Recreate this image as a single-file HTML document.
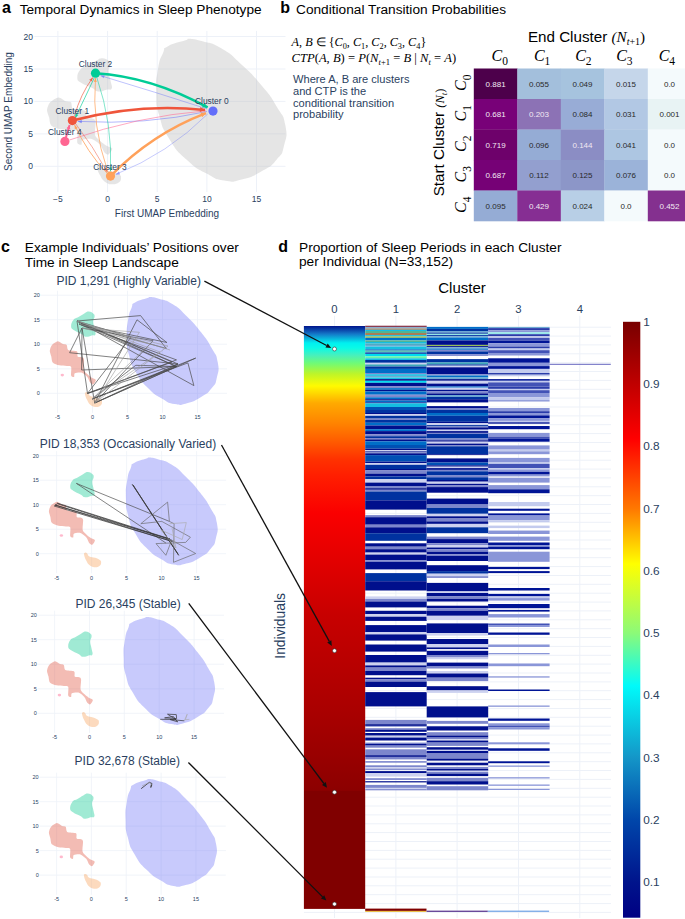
<!DOCTYPE html>
<html><head><meta charset="utf-8"><style>
html,body{margin:0;padding:0;background:#fff;}
body{width:685px;height:919px;overflow:hidden;position:relative;}
svg{position:absolute;left:0;top:0;}
</style></head><body>
<svg width="685" height="919" viewBox="0 0 685 919">
<text x="2" y="12.5" font-size="16" fill="#000" text-anchor="start" font-family='"Liberation Sans", sans-serif' font-weight="bold" font-style="normal" >a</text>
<text x="19.7" y="14" font-size="13.65" fill="#000" text-anchor="start" font-family='"Liberation Sans", sans-serif' font-weight="normal" font-style="normal" >Temporal Dynamics in Sleep Phenotype</text>
<line x1="34.3" y1="166.3" x2="285.5" y2="166.3" stroke="#edf1f8" stroke-width="1"/>
<text x="33" y="169.3" font-size="8.5" fill="#2a3f5f" text-anchor="end" font-family='"Liberation Sans", sans-serif' font-weight="normal" font-style="normal" >0</text>
<line x1="34.3" y1="133.9" x2="285.5" y2="133.9" stroke="#edf1f8" stroke-width="1"/>
<text x="33" y="136.9" font-size="8.5" fill="#2a3f5f" text-anchor="end" font-family='"Liberation Sans", sans-serif' font-weight="normal" font-style="normal" >5</text>
<line x1="34.3" y1="101.4" x2="285.5" y2="101.4" stroke="#edf1f8" stroke-width="1"/>
<text x="33" y="104.4" font-size="8.5" fill="#2a3f5f" text-anchor="end" font-family='"Liberation Sans", sans-serif' font-weight="normal" font-style="normal" >10</text>
<line x1="34.3" y1="69.0" x2="285.5" y2="69.0" stroke="#edf1f8" stroke-width="1"/>
<text x="33" y="72" font-size="8.5" fill="#2a3f5f" text-anchor="end" font-family='"Liberation Sans", sans-serif' font-weight="normal" font-style="normal" >15</text>
<line x1="34.3" y1="36.5" x2="285.5" y2="36.5" stroke="#edf1f8" stroke-width="1"/>
<text x="33" y="39.5" font-size="8.5" fill="#2a3f5f" text-anchor="end" font-family='"Liberation Sans", sans-serif' font-weight="normal" font-style="normal" >20</text>
<line x1="57.9" y1="30.9" x2="57.9" y2="192" stroke="#edf1f8" stroke-width="1"/>
<text x="57.9" y="202" font-size="8.5" fill="#2a3f5f" text-anchor="middle" font-family='"Liberation Sans", sans-serif' font-weight="normal" font-style="normal" >−5</text>
<line x1="107.6" y1="30.9" x2="107.6" y2="192" stroke="#edf1f8" stroke-width="1"/>
<text x="107.6" y="202" font-size="8.5" fill="#2a3f5f" text-anchor="middle" font-family='"Liberation Sans", sans-serif' font-weight="normal" font-style="normal" >0</text>
<line x1="157.2" y1="30.9" x2="157.2" y2="192" stroke="#edf1f8" stroke-width="1"/>
<text x="157.2" y="202" font-size="8.5" fill="#2a3f5f" text-anchor="middle" font-family='"Liberation Sans", sans-serif' font-weight="normal" font-style="normal" >5</text>
<line x1="206.9" y1="30.9" x2="206.9" y2="192" stroke="#edf1f8" stroke-width="1"/>
<text x="206.9" y="202" font-size="8.5" fill="#2a3f5f" text-anchor="middle" font-family='"Liberation Sans", sans-serif' font-weight="normal" font-style="normal" >10</text>
<line x1="256.5" y1="30.9" x2="256.5" y2="192" stroke="#edf1f8" stroke-width="1"/>
<text x="256.5" y="202" font-size="8.5" fill="#2a3f5f" text-anchor="middle" font-family='"Liberation Sans", sans-serif' font-weight="normal" font-style="normal" >15</text>
<text x="167" y="216.6" font-size="10" fill="#2a3f5f" text-anchor="middle" font-family='"Liberation Sans", sans-serif' font-weight="normal" font-style="normal" >First UMAP Embedding</text>
<text x="0" y="0" font-size="10" fill="#2a3f5f" text-anchor="middle" font-family='"Liberation Sans", sans-serif' transform="translate(12,111.5) rotate(-90)">Second UMAP Embedding</text>
<g fill-opacity="0.4" stroke-opacity="0.4">
<path d="M168.0,46.2 C174.8,42.3 179.5,42.6 185.5,40.3 C191.5,38.1 183.1,38.5 188.0,38.7 C192.8,39.0 191.5,38.2 201.6,41.1 C211.7,44.1 209.6,41.5 221.6,48.5 C233.6,55.6 229.7,53.6 241.7,64.7 C253.7,75.8 251.1,73.1 261.6,85.6 C272.1,98.1 269.5,94.6 276.6,106.4 C283.7,118.2 283.0,113.1 285.3,124.9 C287.5,136.7 286.6,135.4 284.0,145.8 C281.4,156.2 283.3,152.0 276.6,159.7 C269.9,167.3 272.1,165.4 261.6,171.3 C251.1,177.2 252.9,176.6 241.7,179.4 C230.4,182.2 234.7,182.3 224.1,180.6 C213.6,178.8 217.9,179.8 206.6,173.6 C195.4,167.3 197.9,170.1 186.7,159.7 C175.5,149.3 177.5,152.1 169.3,138.9 C161.1,125.7 163.2,129.6 159.3,115.6 C155.4,101.7 156.7,106.4 156.3,92.5 C155.9,78.6 156.0,81.1 158.0,69.3 C160.0,57.5 160.0,60.0 163.0,53.0 C166.0,46.1 161.3,50.0 168.0,46.2 Z" fill="#bebebe"/>
<path d="M77.3,78.0 C77.1,74.9 78.0,72.2 80.5,69.3 C82.9,66.4 84.1,67.5 87.7,65.5 C91.4,63.5 92.6,62.4 96.0,60.7 C99.4,59.0 99.4,58.2 102.3,58.2 C105.2,58.2 106.7,59.2 108.6,60.7 C110.5,62.2 110.6,62.1 110.6,64.6 C110.6,67.0 108.6,67.5 108.6,71.3 C108.6,75.1 109.9,76.9 110.6,81.0 C111.3,85.0 112.7,86.6 111.7,88.6 C110.8,90.7 109.6,89.0 106.5,89.7 C103.3,90.4 101.6,92.0 98.2,91.5 C94.8,91.1 95.8,89.8 91.9,87.8 C88.0,85.8 84.9,85.2 81.5,82.9 C78.1,80.7 77.5,81.2 77.3,78.0 Z" fill="#bebebe"/>
<path d="M58.5,97.4 C60.5,97.2 64.1,100.5 65.7,101.2 C67.4,101.9 70.0,101.2 71.0,102.3 C72.0,103.3 71.2,107.9 73.2,109.0 C75.1,110.2 83.8,109.7 85.6,110.9 C87.4,112.0 85.6,116.6 86.6,117.6 C87.6,118.6 91.7,118.1 92.9,118.7 C94.1,119.2 95.3,119.4 95.6,121.6 C95.9,123.8 94.4,132.5 95.0,135.1 C95.6,137.6 98.6,139.5 100.2,140.9 C101.7,142.3 104.8,144.6 106.5,145.7 C108.1,146.7 112.0,147.4 112.3,148.6 C112.6,149.7 109.6,153.9 108.6,154.4 C107.6,154.9 105.6,153.7 104.5,152.4 C103.3,151.1 101.8,146.5 100.2,144.7 C98.5,142.9 94.2,139.6 91.9,138.9 C89.5,138.3 83.8,139.1 82.5,139.8 C81.1,140.6 82.1,144.3 81.5,144.7 C80.8,145.1 77.9,144.5 77.3,142.7 C76.8,140.9 78.1,132.9 77.3,131.2 C76.5,129.6 73.3,130.4 71.0,130.2 C68.8,129.9 63.2,129.9 60.6,129.3 C57.9,128.6 52.7,127.0 51.2,125.4 C49.6,123.9 49.7,119.7 49.2,117.6 C48.6,115.5 46.9,112.0 47.0,109.9 C47.2,107.9 48.6,103.9 50.2,102.3 C51.7,100.6 56.4,97.5 58.5,97.4 Z" fill="#bebebe"/>
<path d="M98.2,165.0 C99.2,164.5 99.8,164.8 101.3,165.9 C102.8,167.0 101.8,168.5 104.5,169.9 C107.1,171.2 109.3,170.6 112.7,171.7 C116.1,172.8 117.1,173.3 119.0,174.6 C121.0,176.0 121.0,175.8 121.0,177.5 C121.0,179.3 121.2,180.7 119.0,182.3 C116.9,183.9 115.1,184.5 111.7,184.3 C108.3,184.1 107.2,183.4 104.5,181.4 C101.8,179.3 101.9,178.7 100.2,175.6 C98.4,172.4 97.5,170.4 97.0,167.9 C96.6,165.4 97.2,165.4 98.2,165.0 Z" fill="#bebebe"/>
<ellipse cx="64.7" cy="142.2" rx="2.4" ry="1.7" fill="#bebebe"/>
</g>
<path d="M207.0,108.9 Q155.0,92.0 100.4,75.6" fill="none" stroke="#636efa" stroke-width="0.7" stroke-opacity="0.6"/>
<path d="M100.4,75.6 L104.7,75.2 L103.8,78.3 Z" fill="#636efa" fill-opacity="0.6"/>
<path d="M207.0,111.5 Q145.4,125.2 77.8,121.4" fill="none" stroke="#636efa" stroke-width="0.7" stroke-opacity="0.7"/>
<path d="M77.8,121.4 L81.9,120.0 L81.7,123.2 Z" fill="#636efa" fill-opacity="0.7"/>
<path d="M207.7,114.0 Q167.9,153.6 115.8,174.4" fill="none" stroke="#636efa" stroke-width="0.6" stroke-opacity="0.6"/>
<path d="M115.8,174.4 L118.9,171.4 L120.1,174.4 Z" fill="#636efa" fill-opacity="0.6"/>
<path d="M69.4,140.0 Q137.7,116.2 206.0,110.8" fill="none" stroke="#FF6692" stroke-width="0.7" stroke-opacity="0.8"/>
<path d="M74.6,115.9 Q80.1,94.9 92.9,77.4" fill="none" stroke="#EF553B" stroke-width="0.8" stroke-opacity="0.8"/>
<path d="M92.9,77.4 L91.8,81.6 L89.2,79.7 Z" fill="#EF553B" fill-opacity="0.8"/>
<path d="M94.2,78.0 Q85.0,97.6 75.2,117.9" fill="none" stroke="#00cc96" stroke-width="0.8" stroke-opacity="0.8"/>
<path d="M75.2,117.9 L75.5,113.6 L78.4,115.0 Z" fill="#00cc96" fill-opacity="0.8"/>
<path d="M107.9,172.0 Q91.5,125.0 95.5,78.0" fill="none" stroke="#FFA15A" stroke-width="0.8" stroke-opacity="0.9"/>
<path d="M95.5,78.0 L96.8,82.1 L93.6,81.8 Z" fill="#FFA15A" fill-opacity="0.9"/>
<path d="M96.8,77.4 Q112.8,124.4 110.5,171.4" fill="none" stroke="#00cc96" stroke-width="0.7" stroke-opacity="0.7"/>
<path d="M110.5,171.4 L109.1,167.3 L112.3,167.5 Z" fill="#00cc96" fill-opacity="0.7"/>
<path d="M107.2,173.4 Q86.9,151.9 74.6,125.0" fill="none" stroke="#FFA15A" stroke-width="0.9" stroke-opacity="0.9"/>
<path d="M74.6,125.0 L77.7,128.0 L74.8,129.3 Z" fill="#FFA15A" fill-opacity="0.9"/>
<path d="M75.2,123.1 Q93.1,146.3 107.2,172.0" fill="none" stroke="#EF553B" stroke-width="0.7" stroke-opacity="0.7"/>
<path d="M107.2,172.0 L103.9,169.3 L106.7,167.7 Z" fill="#EF553B" fill-opacity="0.7"/>
<path d="M95.5,73.2 Q151.5,76.7 207.6,107.4" fill="none" stroke="#00cc96" stroke-width="2.6" stroke-opacity="1"/>
<path d="M207.6,107.4 L202.0,107.2 L204.4,102.8 Z" fill="#00cc96" fill-opacity="1"/>
<path d="M72.4,120.6 Q138.7,103.0 205.0,110.0" fill="none" stroke="#EF553B" stroke-width="2.6" stroke-opacity="1"/>
<path d="M205.0,110.0 L199.8,112.0 L200.3,107.0 Z" fill="#EF553B" fill-opacity="1"/>
<path d="M110.5,176.1 Q151.5,134.0 206.0,113.1" fill="none" stroke="#FFA15A" stroke-width="2.6" stroke-opacity="1"/>
<path d="M206.0,113.1 L202.2,117.2 L200.4,112.6 Z" fill="#FFA15A" fill-opacity="1"/>
<path d="M64.9,141.4 Q67.0,133.0 69.6,125.0" fill="none" stroke="#FF6692" stroke-width="2.0" stroke-opacity="1"/>
<path d="M69.6,125.0 L70.3,129.4 L66.5,128.2 Z" fill="#FF6692" fill-opacity="1"/>
<circle cx="213" cy="111.1" r="4.6" fill="#636efa"/>
<circle cx="72.4" cy="120.6" r="4.6" fill="#EF553B"/>
<circle cx="95.5" cy="73.2" r="4.6" fill="#00cc96"/>
<circle cx="110.5" cy="176.1" r="4.6" fill="#FFA15A"/>
<circle cx="64.9" cy="141.4" r="4.6" fill="#FF6692"/>
<text x="95.5" y="67.4" font-size="8.4" fill="#2a3f5f" text-anchor="middle" font-family='"Liberation Sans", sans-serif' font-weight="normal" font-style="normal" >Cluster 2</text>
<text x="72.3" y="114.1" font-size="8.4" fill="#2a3f5f" text-anchor="middle" font-family='"Liberation Sans", sans-serif' font-weight="normal" font-style="normal" >Cluster 1</text>
<text x="64.8" y="135.3" font-size="8.4" fill="#2a3f5f" text-anchor="middle" font-family='"Liberation Sans", sans-serif' font-weight="normal" font-style="normal" >Cluster 4</text>
<text x="211.8" y="104.4" font-size="8.4" fill="#2a3f5f" text-anchor="middle" font-family='"Liberation Sans", sans-serif' font-weight="normal" font-style="normal" >Cluster 0</text>
<text x="110" y="169.5" font-size="8.4" fill="#2a3f5f" text-anchor="middle" font-family='"Liberation Sans", sans-serif' font-weight="normal" font-style="normal" >Cluster 3</text>
<text x="280.3" y="13" font-size="16" fill="#000" text-anchor="start" font-family='"Liberation Sans", sans-serif' font-weight="bold" font-style="normal" >b</text>
<text x="296" y="13.9" font-size="13.7" fill="#000" text-anchor="start" font-family='"Liberation Sans", sans-serif' font-weight="normal" font-style="normal" >Conditional Transition Probabilities</text>
<text x="291.6" y="45.5" font-family='"Liberation Serif", serif' fill="#000" font-size="12.2"><tspan font-style="italic" font-size="12.20" dy="0.00">A</tspan><tspan font-style="normal" font-size="12.20" dy="0.00">, </tspan><tspan font-style="italic" font-size="12.20" dy="0.00">B</tspan><tspan font-style="normal" font-size="12.20" dy="0.00"> ∈ {</tspan><tspan font-style="italic" font-size="12.20" dy="0.00">C</tspan><tspan font-style="normal" font-size="8.30" dy="3.42">0</tspan><tspan font-style="normal" font-size="12.20" dy="-3.42">, </tspan><tspan font-style="italic" font-size="12.20" dy="0.00">C</tspan><tspan font-style="normal" font-size="8.30" dy="3.42">1</tspan><tspan font-style="normal" font-size="12.20" dy="-3.42">, </tspan><tspan font-style="italic" font-size="12.20" dy="0.00">C</tspan><tspan font-style="normal" font-size="8.30" dy="3.42">2</tspan><tspan font-style="normal" font-size="12.20" dy="-3.42">, </tspan><tspan font-style="italic" font-size="12.20" dy="0.00">C</tspan><tspan font-style="normal" font-size="8.30" dy="3.42">3</tspan><tspan font-style="normal" font-size="12.20" dy="-3.42">, </tspan><tspan font-style="italic" font-size="12.20" dy="0.00">C</tspan><tspan font-style="normal" font-size="8.30" dy="3.42">4</tspan><tspan font-style="normal" font-size="12.20" dy="-3.42">}</tspan></text>
<text x="291.6" y="61.8" font-family='"Liberation Serif", serif' fill="#000" font-size="12.6"><tspan font-style="italic" font-size="12.60" dy="0.00">CTP</tspan><tspan font-style="normal" font-size="12.60" dy="0.00">(</tspan><tspan font-style="italic" font-size="12.60" dy="0.00">A</tspan><tspan font-style="normal" font-size="12.60" dy="0.00">, </tspan><tspan font-style="italic" font-size="12.60" dy="0.00">B</tspan><tspan font-style="normal" font-size="12.60" dy="0.00">) = </tspan><tspan font-style="italic" font-size="12.60" dy="0.00">P</tspan><tspan font-style="normal" font-size="12.60" dy="0.00">(</tspan><tspan font-style="italic" font-size="12.60" dy="0.00">N</tspan><tspan font-style="italic" font-size="8.57" dy="3.53">t</tspan><tspan font-style="normal" font-size="8.57" dy="0.00">+1</tspan><tspan font-style="normal" font-size="12.60" dy="-3.53"> = </tspan><tspan font-style="italic" font-size="12.60" dy="0.00">B</tspan><tspan font-style="normal" font-size="12.60" dy="0.00"> | </tspan><tspan font-style="italic" font-size="12.60" dy="0.00">N</tspan><tspan font-style="italic" font-size="8.57" dy="3.53">t</tspan><tspan font-style="normal" font-size="12.60" dy="-3.53"> = </tspan><tspan font-style="italic" font-size="12.60" dy="0.00">A</tspan><tspan font-style="normal" font-size="12.60" dy="0.00">)</tspan></text>
<text x="293" y="83.3" font-size="11.1" fill="#2a3f5f" text-anchor="start" font-family='"Liberation Sans", sans-serif' font-weight="normal" font-style="normal" >Where A, B are clusters</text>
<text x="293" y="94.9" font-size="11.1" fill="#2a3f5f" text-anchor="start" font-family='"Liberation Sans", sans-serif' font-weight="normal" font-style="normal" >and CTP is the</text>
<text x="293" y="106.5" font-size="11.1" fill="#2a3f5f" text-anchor="start" font-family='"Liberation Sans", sans-serif' font-weight="normal" font-style="normal" >conditional transition</text>
<text x="293" y="118.1" font-size="11.1" fill="#2a3f5f" text-anchor="start" font-family='"Liberation Sans", sans-serif' font-weight="normal" font-style="normal" >probability</text>
<text x="527.9" y="42.2" font-family='"Liberation Sans", sans-serif' font-size="15.2" fill="#000">End Cluster <tspan font-family='"Liberation Serif", serif' font-style="italic">(N</tspan><tspan font-family='"Liberation Serif", serif' font-style="italic" font-size="10" dy="3">t</tspan><tspan font-family='"Liberation Serif", serif' font-size="10">+1</tspan><tspan font-family='"Liberation Serif", serif' dy="-3">)</tspan></text>
<text x="491.6" y="61.2" font-family='"Liberation Serif", serif' font-size="16" fill="#000"><tspan font-style="italic">C</tspan><tspan font-size="11.5" dy="3.6">0</tspan></text>
<text x="533.9" y="61.2" font-family='"Liberation Serif", serif' font-size="16" fill="#000"><tspan font-style="italic">C</tspan><tspan font-size="11.5" dy="3.6">1</tspan></text>
<text x="575.2" y="61.2" font-family='"Liberation Serif", serif' font-size="16" fill="#000"><tspan font-style="italic">C</tspan><tspan font-size="11.5" dy="3.6">2</tspan></text>
<text x="616.2" y="61.2" font-family='"Liberation Serif", serif' font-size="16" fill="#000"><tspan font-style="italic">C</tspan><tspan font-size="11.5" dy="3.6">3</tspan></text>
<text x="658.7" y="61.2" font-family='"Liberation Serif", serif' font-size="16" fill="#000"><tspan font-style="italic">C</tspan><tspan font-size="11.5" dy="3.6">4</tspan></text>
<text x="0" y="0" transform="translate(466,91.0) rotate(-90)" font-family='"Liberation Serif", serif' font-size="16" fill="#000"><tspan font-style="italic">C</tspan><tspan font-size="11.5" dy="4.5">0</tspan></text>
<text x="0" y="0" transform="translate(466,121.5) rotate(-90)" font-family='"Liberation Serif", serif' font-size="16" fill="#000"><tspan font-style="italic">C</tspan><tspan font-size="11.5" dy="4.5">1</tspan></text>
<text x="0" y="0" transform="translate(466,151.9) rotate(-90)" font-family='"Liberation Serif", serif' font-size="16" fill="#000"><tspan font-style="italic">C</tspan><tspan font-size="11.5" dy="4.5">2</tspan></text>
<text x="0" y="0" transform="translate(466,182.4) rotate(-90)" font-family='"Liberation Serif", serif' font-size="16" fill="#000"><tspan font-style="italic">C</tspan><tspan font-size="11.5" dy="4.5">3</tspan></text>
<text x="0" y="0" transform="translate(466,212.9) rotate(-90)" font-family='"Liberation Serif", serif' font-size="16" fill="#000"><tspan font-style="italic">C</tspan><tspan font-size="11.5" dy="4.5">4</tspan></text>
<text x="0" y="0" transform="translate(444.2,196.3) rotate(-90)" font-family='"Liberation Sans", sans-serif' font-size="15.2" fill="#000">Start Cluster <tspan font-family='"Liberation Serif", serif' font-style="italic" font-size="12.5">(N</tspan><tspan font-family='"Liberation Serif", serif' font-style="italic" font-size="8.5" dy="2.5">t</tspan><tspan font-family='"Liberation Serif", serif' font-size="12.5" dy="-2.5">)</tspan></text>
<rect x="473.8" y="68.5" width="43.8" height="30.8" fill="#4d004b"/>
<text x="495.6" y="86.8" font-size="8.0" fill="#f2e8f2" text-anchor="middle" font-family='"Liberation Sans", sans-serif' font-weight="normal" font-style="normal" >0.881</text>
<rect x="517.3" y="68.5" width="43.8" height="30.8" fill="#a3bfdc"/>
<text x="539" y="86.8" font-size="8.0" fill="#2a2a2a" text-anchor="middle" font-family='"Liberation Sans", sans-serif' font-weight="normal" font-style="normal" >0.055</text>
<rect x="560.8" y="68.5" width="43.8" height="30.8" fill="#a6c3de"/>
<text x="582.5" y="86.8" font-size="8.0" fill="#2a2a2a" text-anchor="middle" font-family='"Liberation Sans", sans-serif' font-weight="normal" font-style="normal" >0.049</text>
<rect x="604.3" y="68.5" width="43.8" height="30.8" fill="#c5d6ea"/>
<text x="626" y="86.8" font-size="8.0" fill="#2a2a2a" text-anchor="middle" font-family='"Liberation Sans", sans-serif' font-weight="normal" font-style="normal" >0.015</text>
<rect x="647.8" y="68.5" width="43.8" height="30.8" fill="#f4fafc"/>
<text x="669.5" y="86.8" font-size="8.0" fill="#2a2a2a" text-anchor="middle" font-family='"Liberation Sans", sans-serif' font-weight="normal" font-style="normal" >0.0</text>
<rect x="473.8" y="99.0" width="43.8" height="30.8" fill="#780178"/>
<text x="495.6" y="117.2" font-size="8.0" fill="#f2e8f2" text-anchor="middle" font-family='"Liberation Sans", sans-serif' font-weight="normal" font-style="normal" >0.681</text>
<rect x="517.3" y="99.0" width="43.8" height="30.8" fill="#8c72b5"/>
<text x="539" y="117.2" font-size="8.0" fill="#f2e8f2" text-anchor="middle" font-family='"Liberation Sans", sans-serif' font-weight="normal" font-style="normal" >0.203</text>
<rect x="560.8" y="99.0" width="43.8" height="30.8" fill="#98acd6"/>
<text x="582.5" y="117.2" font-size="8.0" fill="#2a2a2a" text-anchor="middle" font-family='"Liberation Sans", sans-serif' font-weight="normal" font-style="normal" >0.084</text>
<rect x="604.3" y="99.0" width="43.8" height="30.8" fill="#b2c8e4"/>
<text x="626" y="117.2" font-size="8.0" fill="#2a2a2a" text-anchor="middle" font-family='"Liberation Sans", sans-serif' font-weight="normal" font-style="normal" >0.031</text>
<rect x="647.8" y="99.0" width="43.8" height="30.8" fill="#e8f3f4"/>
<text x="669.5" y="117.2" font-size="8.0" fill="#2a2a2a" text-anchor="middle" font-family='"Liberation Sans", sans-serif' font-weight="normal" font-style="normal" >0.001</text>
<rect x="473.8" y="129.5" width="43.8" height="30.8" fill="#6e016b"/>
<text x="495.6" y="147.8" font-size="8.0" fill="#f2e8f2" text-anchor="middle" font-family='"Liberation Sans", sans-serif' font-weight="normal" font-style="normal" >0.719</text>
<rect x="517.3" y="129.5" width="43.8" height="30.8" fill="#95acd5"/>
<text x="539" y="147.8" font-size="8.0" fill="#2a2a2a" text-anchor="middle" font-family='"Liberation Sans", sans-serif' font-weight="normal" font-style="normal" >0.096</text>
<rect x="560.8" y="129.5" width="43.8" height="30.8" fill="#8b8dc4"/>
<text x="582.5" y="147.8" font-size="8.0" fill="#f2e8f2" text-anchor="middle" font-family='"Liberation Sans", sans-serif' font-weight="normal" font-style="normal" >0.144</text>
<rect x="604.3" y="129.5" width="43.8" height="30.8" fill="#adc6e2"/>
<text x="626" y="147.8" font-size="8.0" fill="#2a2a2a" text-anchor="middle" font-family='"Liberation Sans", sans-serif' font-weight="normal" font-style="normal" >0.041</text>
<rect x="647.8" y="129.5" width="43.8" height="30.8" fill="#f4fafc"/>
<text x="669.5" y="147.8" font-size="8.0" fill="#2a2a2a" text-anchor="middle" font-family='"Liberation Sans", sans-serif' font-weight="normal" font-style="normal" >0.0</text>
<rect x="473.8" y="160.0" width="43.8" height="30.8" fill="#760176"/>
<text x="495.6" y="178.2" font-size="8.0" fill="#f2e8f2" text-anchor="middle" font-family='"Liberation Sans", sans-serif' font-weight="normal" font-style="normal" >0.687</text>
<rect x="517.3" y="160.0" width="43.8" height="30.8" fill="#939fcf"/>
<text x="539" y="178.2" font-size="8.0" fill="#2a2a2a" text-anchor="middle" font-family='"Liberation Sans", sans-serif' font-weight="normal" font-style="normal" >0.112</text>
<rect x="560.8" y="160.0" width="43.8" height="30.8" fill="#8c96c8"/>
<text x="582.5" y="178.2" font-size="8.0" fill="#2a2a2a" text-anchor="middle" font-family='"Liberation Sans", sans-serif' font-weight="normal" font-style="normal" >0.125</text>
<rect x="604.3" y="160.0" width="43.8" height="30.8" fill="#9bb3d9"/>
<text x="626" y="178.2" font-size="8.0" fill="#2a2a2a" text-anchor="middle" font-family='"Liberation Sans", sans-serif' font-weight="normal" font-style="normal" >0.076</text>
<rect x="647.8" y="160.0" width="43.8" height="30.8" fill="#f4fafc"/>
<text x="669.5" y="178.2" font-size="8.0" fill="#2a2a2a" text-anchor="middle" font-family='"Liberation Sans", sans-serif' font-weight="normal" font-style="normal" >0.0</text>
<rect x="473.8" y="190.5" width="43.8" height="30.8" fill="#95acd5"/>
<text x="495.6" y="208.8" font-size="8.0" fill="#2a2a2a" text-anchor="middle" font-family='"Liberation Sans", sans-serif' font-weight="normal" font-style="normal" >0.095</text>
<rect x="517.3" y="190.5" width="43.8" height="30.8" fill="#862e93"/>
<text x="539" y="208.8" font-size="8.0" fill="#f2e8f2" text-anchor="middle" font-family='"Liberation Sans", sans-serif' font-weight="normal" font-style="normal" >0.429</text>
<rect x="560.8" y="190.5" width="43.8" height="30.8" fill="#b8cfe6"/>
<text x="582.5" y="208.8" font-size="8.0" fill="#2a2a2a" text-anchor="middle" font-family='"Liberation Sans", sans-serif' font-weight="normal" font-style="normal" >0.024</text>
<rect x="604.3" y="190.5" width="43.8" height="30.8" fill="#f4fafc"/>
<text x="626" y="208.8" font-size="8.0" fill="#2a2a2a" text-anchor="middle" font-family='"Liberation Sans", sans-serif' font-weight="normal" font-style="normal" >0.0</text>
<rect x="647.8" y="190.5" width="43.8" height="30.8" fill="#84308f"/>
<text x="669.5" y="208.8" font-size="8.0" fill="#f2e8f2" text-anchor="middle" font-family='"Liberation Sans", sans-serif' font-weight="normal" font-style="normal" >0.452</text>
<text x="1" y="252" font-size="16" fill="#000" text-anchor="start" font-family='"Liberation Sans", sans-serif' font-weight="bold" font-style="normal" >c</text>
<text x="24.8" y="251.8" font-size="13.7" fill="#000" text-anchor="start" font-family='"Liberation Sans", sans-serif' font-weight="normal" font-style="normal" >Example Individuals’ Positions over</text>
<text x="24.8" y="266.5" font-size="13.7" fill="#000" text-anchor="start" font-family='"Liberation Sans", sans-serif' font-weight="normal" font-style="normal" >Time in Sleep Landscape</text>
<line x1="40.5" y1="393.3" x2="227.0" y2="393.3" stroke="#edf1f8" stroke-width="0.8"/>
<text x="39.8" y="395.3" font-size="5.5" fill="#2a3f5f" text-anchor="end" font-family='"Liberation Sans", sans-serif' font-weight="normal" font-style="normal" >0</text>
<line x1="40.5" y1="368.8" x2="227.0" y2="368.8" stroke="#edf1f8" stroke-width="0.8"/>
<text x="39.8" y="370.8" font-size="5.5" fill="#2a3f5f" text-anchor="end" font-family='"Liberation Sans", sans-serif' font-weight="normal" font-style="normal" >5</text>
<line x1="40.5" y1="344.2" x2="227.0" y2="344.2" stroke="#edf1f8" stroke-width="0.8"/>
<text x="39.8" y="346.2" font-size="5.5" fill="#2a3f5f" text-anchor="end" font-family='"Liberation Sans", sans-serif' font-weight="normal" font-style="normal" >10</text>
<line x1="40.5" y1="319.7" x2="227.0" y2="319.7" stroke="#edf1f8" stroke-width="0.8"/>
<text x="39.8" y="321.7" font-size="5.5" fill="#2a3f5f" text-anchor="end" font-family='"Liberation Sans", sans-serif' font-weight="normal" font-style="normal" >15</text>
<line x1="40.5" y1="295.2" x2="227.0" y2="295.2" stroke="#edf1f8" stroke-width="0.8"/>
<text x="39.8" y="297.2" font-size="5.5" fill="#2a3f5f" text-anchor="end" font-family='"Liberation Sans", sans-serif' font-weight="normal" font-style="normal" >20</text>
<line x1="57.5" y1="290.7" x2="57.5" y2="412.9" stroke="#edf1f8" stroke-width="0.8"/>
<text x="57.5" y="419.2" font-size="5.5" fill="#2a3f5f" text-anchor="middle" font-family='"Liberation Sans", sans-serif' font-weight="normal" font-style="normal" >-5</text>
<line x1="92.5" y1="290.7" x2="92.5" y2="412.9" stroke="#edf1f8" stroke-width="0.8"/>
<text x="92.5" y="419.2" font-size="5.5" fill="#2a3f5f" text-anchor="middle" font-family='"Liberation Sans", sans-serif' font-weight="normal" font-style="normal" >0</text>
<line x1="127.5" y1="290.7" x2="127.5" y2="412.9" stroke="#edf1f8" stroke-width="0.8"/>
<text x="127.5" y="419.2" font-size="5.5" fill="#2a3f5f" text-anchor="middle" font-family='"Liberation Sans", sans-serif' font-weight="normal" font-style="normal" >5</text>
<line x1="162.5" y1="290.7" x2="162.5" y2="412.9" stroke="#edf1f8" stroke-width="0.8"/>
<text x="162.5" y="419.2" font-size="5.5" fill="#2a3f5f" text-anchor="middle" font-family='"Liberation Sans", sans-serif' font-weight="normal" font-style="normal" >10</text>
<line x1="197.5" y1="290.7" x2="197.5" y2="412.9" stroke="#edf1f8" stroke-width="0.8"/>
<text x="197.5" y="419.2" font-size="5.5" fill="#2a3f5f" text-anchor="middle" font-family='"Liberation Sans", sans-serif' font-weight="normal" font-style="normal" >15</text>
<g fill-opacity="0.4" stroke-opacity="0.4">
<path d="M135.1,302.5 C139.8,299.6 143.2,299.8 147.4,298.1 C151.7,296.4 145.7,296.7 149.1,296.9 C152.5,297.1 151.7,296.5 158.8,298.7 C165.9,300.9 164.4,299.0 172.8,304.3 C181.3,309.6 178.5,308.1 187.0,316.5 C195.5,324.9 193.7,322.9 201.1,332.3 C208.4,341.8 206.6,339.1 211.6,348.0 C216.6,356.9 216.2,353.1 217.7,362.0 C219.3,370.9 218.7,369.9 216.8,377.8 C215.0,385.7 216.3,382.5 211.6,388.3 C206.9,394.1 208.4,392.6 201.1,397.1 C193.7,401.6 194.9,401.1 187.0,403.2 C179.1,405.3 182.1,405.4 174.7,404.1 C167.2,402.8 170.2,403.5 162.3,398.8 C154.4,394.1 156.1,396.2 148.2,388.3 C140.3,380.4 141.8,382.6 136.0,372.6 C130.2,362.6 131.7,365.5 129.0,355.0 C126.2,344.5 127.1,348.0 126.8,337.5 C126.6,327.0 126.6,328.9 128.1,320.0 C129.5,311.1 129.5,313.0 131.6,307.7 C133.7,302.5 130.3,305.4 135.1,302.5 Z" fill="#767af8"/>
<path d="M71.1,326.6 C71.0,324.2 71.6,322.2 73.4,320.0 C75.1,317.8 75.9,318.6 78.5,317.1 C81.1,315.6 81.9,314.8 84.3,313.5 C86.7,312.2 86.7,311.6 88.8,311.6 C90.8,311.6 91.8,312.4 93.2,313.5 C94.6,314.6 94.6,314.5 94.6,316.4 C94.6,318.3 93.2,318.6 93.2,321.5 C93.2,324.4 94.1,325.7 94.6,328.8 C95.1,331.9 96.1,333.1 95.4,334.6 C94.7,336.1 93.9,334.9 91.7,335.4 C89.5,335.9 88.2,337.1 85.9,336.8 C83.5,336.5 84.2,335.5 81.4,334.0 C78.7,332.5 76.5,332.0 74.1,330.3 C71.7,328.6 71.3,329.0 71.1,326.6 Z" fill="#12ca94"/>
<path d="M57.9,341.2 C59.3,341.1 61.8,343.6 63.0,344.1 C64.2,344.6 66.0,344.1 66.7,344.9 C67.4,345.7 66.9,349.1 68.2,350.0 C69.6,350.9 75.7,350.5 77.0,351.4 C78.3,352.3 77.0,355.7 77.7,356.5 C78.4,357.3 81.3,356.9 82.1,357.3 C83.0,357.7 83.8,357.8 84.0,359.5 C84.2,361.2 83.2,367.8 83.6,369.7 C84.1,371.6 86.2,373.0 87.3,374.1 C88.3,375.2 90.6,376.9 91.7,377.7 C92.8,378.5 95.6,379.0 95.8,379.9 C96.0,380.8 93.9,383.9 93.2,384.3 C92.5,384.7 91.1,383.8 90.3,382.8 C89.5,381.8 88.4,378.4 87.3,377.0 C86.1,375.6 83.1,373.1 81.4,372.6 C79.8,372.1 75.8,372.7 74.8,373.3 C73.8,373.9 74.6,376.7 74.1,377.0 C73.6,377.3 71.5,376.9 71.1,375.5 C70.8,374.1 71.7,368.1 71.1,366.8 C70.6,365.5 68.3,366.2 66.7,366.0 C65.1,365.8 61.2,365.8 59.4,365.3 C57.5,364.8 53.8,363.6 52.7,362.4 C51.6,361.2 51.7,358.1 51.3,356.5 C50.9,354.9 49.7,352.2 49.8,350.7 C49.9,349.2 50.9,346.2 52.0,344.9 C53.1,343.6 56.4,341.3 57.9,341.2 Z" fill="#e15844"/>
<path d="M85.9,392.3 C86.6,391.9 87.0,392.1 88.1,393.0 C89.1,393.9 88.4,395.0 90.3,396.0 C92.2,397.0 93.7,396.6 96.1,397.4 C98.5,398.2 99.2,398.6 100.6,399.6 C101.9,400.6 102.0,400.4 102.0,401.8 C102.0,403.2 102.1,404.2 100.6,405.4 C99.0,406.6 97.8,407.1 95.4,406.9 C93.0,406.7 92.2,406.2 90.3,404.7 C88.4,403.2 88.5,402.7 87.3,400.3 C86.0,397.9 85.4,396.4 85.0,394.5 C84.7,392.6 85.1,392.7 85.9,392.3 Z" fill="#f8a25c"/>
<ellipse cx="62.3" cy="375.1" rx="1.7" ry="1.3" fill="#ff5082"/>
</g>
<text x="56.4" y="284.7" font-size="12" fill="#2a3f5f" text-anchor="start" font-family='"Liberation Sans", sans-serif' font-weight="normal" font-style="normal" >PID 1,291 (Highly Variable)</text>
<polyline points="77.0,321.0 140.6,315.6 166.3,348.5 79.0,324.0 176.5,366.5 94.7,403.0 82.0,328.0 69.6,352.7 178.0,364.0 87.5,393.4 131.0,337.1 77.0,321.0 176.5,366.5 92.0,399.0 195.7,358.1 94.7,403.0 137.0,319.8 166.9,342.5 79.0,324.0 176.5,359.9 87.5,393.4 77.0,321.0 193.9,385.6 187.9,362.9 92.0,399.0 135.8,365.3 176.5,366.5 81.6,370.0 82.0,328.0 153.1,340.7 94.7,403.0 178.0,364.0 77.0,321.0 172.0,362.0 87.5,393.4" fill="none" stroke="#4a4a4a" stroke-width="0.7"/>
<polyline points="79.0,324.0 168.0,346.0 94.7,403.0 139.4,332.3 82.0,328.0 150.0,344.0 92.0,399.0 160.0,352.0 77.0,321.0 170.0,350.0" fill="none" stroke="#9a9a9a" stroke-width="0.6"/>
<line x1="39.6" y1="553.7" x2="226.1" y2="553.7" stroke="#edf1f8" stroke-width="0.8"/>
<text x="38.9" y="555.7" font-size="5.5" fill="#2a3f5f" text-anchor="end" font-family='"Liberation Sans", sans-serif' font-weight="normal" font-style="normal" >0</text>
<line x1="39.6" y1="529.2" x2="226.1" y2="529.2" stroke="#edf1f8" stroke-width="0.8"/>
<text x="38.9" y="531.2" font-size="5.5" fill="#2a3f5f" text-anchor="end" font-family='"Liberation Sans", sans-serif' font-weight="normal" font-style="normal" >5</text>
<line x1="39.6" y1="504.7" x2="226.1" y2="504.7" stroke="#edf1f8" stroke-width="0.8"/>
<text x="38.9" y="506.7" font-size="5.5" fill="#2a3f5f" text-anchor="end" font-family='"Liberation Sans", sans-serif' font-weight="normal" font-style="normal" >10</text>
<line x1="39.6" y1="480.2" x2="226.1" y2="480.2" stroke="#edf1f8" stroke-width="0.8"/>
<text x="38.9" y="482.2" font-size="5.5" fill="#2a3f5f" text-anchor="end" font-family='"Liberation Sans", sans-serif' font-weight="normal" font-style="normal" >15</text>
<line x1="39.6" y1="455.7" x2="226.1" y2="455.7" stroke="#edf1f8" stroke-width="0.8"/>
<text x="38.9" y="457.7" font-size="5.5" fill="#2a3f5f" text-anchor="end" font-family='"Liberation Sans", sans-serif' font-weight="normal" font-style="normal" >20</text>
<line x1="56.6" y1="451.2" x2="56.6" y2="573.3" stroke="#edf1f8" stroke-width="0.8"/>
<text x="56.6" y="579.6" font-size="5.5" fill="#2a3f5f" text-anchor="middle" font-family='"Liberation Sans", sans-serif' font-weight="normal" font-style="normal" >-5</text>
<line x1="91.6" y1="451.2" x2="91.6" y2="573.3" stroke="#edf1f8" stroke-width="0.8"/>
<text x="91.6" y="579.6" font-size="5.5" fill="#2a3f5f" text-anchor="middle" font-family='"Liberation Sans", sans-serif' font-weight="normal" font-style="normal" >0</text>
<line x1="126.6" y1="451.2" x2="126.6" y2="573.3" stroke="#edf1f8" stroke-width="0.8"/>
<text x="126.6" y="579.6" font-size="5.5" fill="#2a3f5f" text-anchor="middle" font-family='"Liberation Sans", sans-serif' font-weight="normal" font-style="normal" >5</text>
<line x1="161.6" y1="451.2" x2="161.6" y2="573.3" stroke="#edf1f8" stroke-width="0.8"/>
<text x="161.6" y="579.6" font-size="5.5" fill="#2a3f5f" text-anchor="middle" font-family='"Liberation Sans", sans-serif' font-weight="normal" font-style="normal" >10</text>
<line x1="196.6" y1="451.2" x2="196.6" y2="573.3" stroke="#edf1f8" stroke-width="0.8"/>
<text x="196.6" y="579.6" font-size="5.5" fill="#2a3f5f" text-anchor="middle" font-family='"Liberation Sans", sans-serif' font-weight="normal" font-style="normal" >15</text>
<g fill-opacity="0.4" stroke-opacity="0.4">
<path d="M134.2,463.0 C138.9,460.1 142.3,460.3 146.5,458.6 C150.8,456.9 144.8,457.2 148.2,457.4 C151.6,457.6 150.8,457.0 157.9,459.2 C165.0,461.4 163.5,459.5 171.9,464.8 C180.4,470.1 177.6,468.6 186.1,477.0 C194.6,485.4 192.8,483.3 200.2,492.8 C207.5,502.2 205.7,499.5 210.7,508.4 C215.7,517.3 215.3,513.5 216.8,522.4 C218.4,531.4 217.8,530.3 215.9,538.2 C214.1,546.1 215.4,542.9 210.7,548.7 C206.0,554.5 207.5,553.0 200.2,557.5 C192.8,562.0 194.0,561.5 186.1,563.6 C178.2,565.7 181.2,565.8 173.8,564.5 C166.3,563.2 169.3,563.9 161.4,559.2 C153.5,554.5 155.2,556.6 147.3,548.7 C139.4,540.9 140.9,543.0 135.1,533.0 C129.3,523.0 130.8,526.0 128.1,515.4 C125.3,504.9 126.2,508.4 125.9,498.0 C125.7,487.5 125.7,489.4 127.2,480.5 C128.6,471.5 128.6,473.4 130.7,468.2 C132.8,462.9 129.4,465.9 134.2,463.0 Z" fill="#767af8"/>
<path d="M70.2,487.1 C70.1,484.7 70.7,482.7 72.5,480.5 C74.2,478.3 75.0,479.1 77.6,477.6 C80.2,476.1 81.0,475.3 83.4,474.0 C85.8,472.7 85.8,472.1 87.9,472.1 C89.9,472.1 90.9,472.9 92.3,474.0 C93.7,475.1 93.7,475.0 93.7,476.9 C93.7,478.7 92.3,479.1 92.3,482.0 C92.3,484.9 93.2,486.2 93.7,489.3 C94.2,492.3 95.2,493.5 94.5,495.1 C93.8,496.6 93.0,495.3 90.8,495.9 C88.6,496.4 87.3,497.6 85.0,497.3 C82.6,496.9 83.3,496.0 80.5,494.5 C77.8,492.9 75.6,492.5 73.2,490.8 C70.8,489.0 70.4,489.5 70.2,487.1 Z" fill="#12ca94"/>
<path d="M57.0,501.7 C58.4,501.5 60.9,504.1 62.1,504.6 C63.3,505.0 65.1,504.6 65.8,505.3 C66.5,506.1 66.0,509.6 67.3,510.4 C68.7,511.3 74.8,511.0 76.1,511.8 C77.4,512.7 76.1,516.2 76.8,516.9 C77.5,517.7 80.4,517.3 81.2,517.7 C82.1,518.1 82.9,518.3 83.1,519.9 C83.3,521.6 82.3,528.2 82.7,530.1 C83.2,532.1 85.3,533.5 86.4,534.5 C87.4,535.6 89.7,537.3 90.8,538.1 C91.9,538.9 94.7,539.4 94.9,540.3 C95.1,541.2 93.0,544.3 92.3,544.7 C91.6,545.1 90.2,544.2 89.4,543.2 C88.6,542.2 87.5,538.8 86.4,537.4 C85.2,536.1 82.2,533.5 80.5,533.0 C78.9,532.5 74.9,533.1 73.9,533.7 C72.9,534.3 73.7,537.1 73.2,537.4 C72.7,537.7 70.6,537.3 70.2,535.9 C69.9,534.6 70.8,528.5 70.2,527.2 C69.7,526.0 67.4,526.6 65.8,526.4 C64.2,526.2 60.3,526.2 58.5,525.7 C56.6,525.2 52.9,524.0 51.8,522.8 C50.7,521.7 50.8,518.5 50.4,516.9 C50.0,515.4 48.8,512.7 48.9,511.1 C49.0,509.6 50.0,506.6 51.1,505.3 C52.2,504.1 55.5,501.8 57.0,501.7 Z" fill="#e15844"/>
<path d="M85.0,552.7 C85.7,552.4 86.1,552.5 87.2,553.4 C88.2,554.3 87.5,555.4 89.4,556.4 C91.3,557.4 92.8,557.0 95.2,557.8 C97.6,558.6 98.3,559.0 99.7,560.0 C101.0,561.0 101.1,560.8 101.1,562.2 C101.1,563.5 101.2,564.6 99.7,565.8 C98.1,567.0 96.9,567.4 94.5,567.3 C92.1,567.1 91.3,566.6 89.4,565.1 C87.5,563.5 87.6,563.1 86.4,560.7 C85.1,558.3 84.5,556.8 84.1,554.9 C83.8,553.0 84.2,553.1 85.0,552.7 Z" fill="#f8a25c"/>
<ellipse cx="61.4" cy="535.5" rx="1.7" ry="1.3" fill="#ff5082"/>
</g>
<text x="39.7" y="447.6" font-size="12" fill="#2a3f5f" text-anchor="start" font-family='"Liberation Sans", sans-serif' font-weight="normal" font-style="normal" >PID 18,353 (Occasionally Varied)</text>
<polyline points="169.4,521.4 76.4,483.4 165.9,543.0" fill="none" stroke="#505050" stroke-width="0.7"/>
<polyline points="171.7,540.1 57.3,503.7 54.3,506.0 172.5,541.5 55.0,505.0 170.0,539.0 57.0,503.0" fill="none" stroke="#3a3a3a" stroke-width="0.75"/>
<polyline points="132.0,484.0 178.7,555.3 133.0,485.0 178.0,554.0" fill="none" stroke="#3a3a3a" stroke-width="0.7"/>
<polyline points="140.8,523.7 167.6,502.1 169.4,521.4 174.1,523.7 173.5,562.3 195.7,553.5 171.7,540.1 165.9,555.3 156.0,543.6 185.7,542.4 190.4,537.2 161.8,521.4 140.8,523.7" fill="none" stroke="#666" stroke-width="0.65"/>
<polyline points="169.4,523.7 186.3,522.6 182.2,539.5 161.0,530.0 176.0,548.0 172.0,528.0" fill="none" stroke="#aaa" stroke-width="0.65"/>
<line x1="37.5" y1="713.3" x2="224.0" y2="713.3" stroke="#edf1f8" stroke-width="0.8"/>
<text x="36.8" y="715.3" font-size="5.5" fill="#2a3f5f" text-anchor="end" font-family='"Liberation Sans", sans-serif' font-weight="normal" font-style="normal" >0</text>
<line x1="37.5" y1="688.8" x2="224.0" y2="688.8" stroke="#edf1f8" stroke-width="0.8"/>
<text x="36.8" y="690.8" font-size="5.5" fill="#2a3f5f" text-anchor="end" font-family='"Liberation Sans", sans-serif' font-weight="normal" font-style="normal" >5</text>
<line x1="37.5" y1="664.2" x2="224.0" y2="664.2" stroke="#edf1f8" stroke-width="0.8"/>
<text x="36.8" y="666.2" font-size="5.5" fill="#2a3f5f" text-anchor="end" font-family='"Liberation Sans", sans-serif' font-weight="normal" font-style="normal" >10</text>
<line x1="37.5" y1="639.7" x2="224.0" y2="639.7" stroke="#edf1f8" stroke-width="0.8"/>
<text x="36.8" y="641.7" font-size="5.5" fill="#2a3f5f" text-anchor="end" font-family='"Liberation Sans", sans-serif' font-weight="normal" font-style="normal" >15</text>
<line x1="37.5" y1="615.2" x2="224.0" y2="615.2" stroke="#edf1f8" stroke-width="0.8"/>
<text x="36.8" y="617.2" font-size="5.5" fill="#2a3f5f" text-anchor="end" font-family='"Liberation Sans", sans-serif' font-weight="normal" font-style="normal" >20</text>
<line x1="54.6" y1="610.7" x2="54.6" y2="732.9" stroke="#edf1f8" stroke-width="0.8"/>
<text x="54.6" y="739.2" font-size="5.5" fill="#2a3f5f" text-anchor="middle" font-family='"Liberation Sans", sans-serif' font-weight="normal" font-style="normal" >-5</text>
<line x1="89.5" y1="610.7" x2="89.5" y2="732.9" stroke="#edf1f8" stroke-width="0.8"/>
<text x="89.5" y="739.2" font-size="5.5" fill="#2a3f5f" text-anchor="middle" font-family='"Liberation Sans", sans-serif' font-weight="normal" font-style="normal" >0</text>
<line x1="124.3" y1="610.7" x2="124.3" y2="732.9" stroke="#edf1f8" stroke-width="0.8"/>
<text x="124.3" y="739.2" font-size="5.5" fill="#2a3f5f" text-anchor="middle" font-family='"Liberation Sans", sans-serif' font-weight="normal" font-style="normal" >5</text>
<line x1="159.2" y1="610.7" x2="159.2" y2="732.9" stroke="#edf1f8" stroke-width="0.8"/>
<text x="159.2" y="739.2" font-size="5.5" fill="#2a3f5f" text-anchor="middle" font-family='"Liberation Sans", sans-serif' font-weight="normal" font-style="normal" >10</text>
<line x1="194.1" y1="610.7" x2="194.1" y2="732.9" stroke="#edf1f8" stroke-width="0.8"/>
<text x="194.1" y="739.2" font-size="5.5" fill="#2a3f5f" text-anchor="middle" font-family='"Liberation Sans", sans-serif' font-weight="normal" font-style="normal" >15</text>
<g fill-opacity="0.4" stroke-opacity="0.4">
<path d="M131.9,622.5 C136.6,619.6 140.0,619.8 144.2,618.1 C148.4,616.4 142.5,616.7 145.9,616.9 C149.3,617.1 148.4,616.5 155.5,618.7 C162.6,620.9 161.1,619.0 169.5,624.3 C177.9,629.6 175.2,628.1 183.6,636.5 C192.0,644.9 190.2,642.8 197.6,652.3 C204.9,661.8 203.1,659.1 208.1,668.0 C213.1,676.9 212.6,673.1 214.2,682.0 C215.8,690.9 215.1,689.9 213.3,697.8 C211.5,705.7 212.8,702.5 208.1,708.3 C203.4,714.1 204.9,712.6 197.6,717.1 C190.2,721.6 191.5,721.1 183.6,723.2 C175.7,725.3 178.7,725.4 171.3,724.1 C163.9,722.8 166.9,723.5 159.0,718.8 C151.1,714.1 152.9,716.2 145.0,708.3 C137.1,700.4 138.6,702.6 132.8,692.6 C127.0,682.6 128.5,685.5 125.8,675.0 C123.1,664.5 124.0,668.0 123.7,657.5 C123.4,647.0 123.5,648.9 124.9,640.0 C126.3,631.1 126.3,633.0 128.4,627.7 C130.5,622.5 127.2,625.4 131.9,622.5 Z" fill="#767af8"/>
<path d="M68.2,646.6 C68.1,644.2 68.7,642.2 70.4,640.0 C72.2,637.8 73.0,638.6 75.6,637.1 C78.1,635.6 79.0,634.8 81.4,633.5 C83.8,632.2 83.7,631.6 85.8,631.6 C87.8,631.6 88.8,632.4 90.2,633.5 C91.6,634.6 91.6,634.5 91.6,636.4 C91.6,638.3 90.2,638.6 90.2,641.5 C90.2,644.4 91.1,645.7 91.6,648.8 C92.1,651.9 93.1,653.1 92.4,654.6 C91.7,656.1 90.9,654.9 88.7,655.4 C86.5,655.9 85.3,657.1 82.9,656.8 C80.5,656.5 81.2,655.5 78.5,654.0 C75.7,652.5 73.5,652.0 71.1,650.3 C68.8,648.6 68.4,649.0 68.2,646.6 Z" fill="#12ca94"/>
<path d="M55.0,661.2 C56.5,661.1 58.9,663.6 60.1,664.1 C61.3,664.6 63.1,664.1 63.8,664.9 C64.5,665.7 64.0,669.1 65.3,670.0 C66.7,670.9 72.8,670.5 74.1,671.4 C75.3,672.3 74.1,675.7 74.8,676.5 C75.4,677.3 78.3,676.9 79.2,677.3 C80.0,677.7 80.9,677.8 81.1,679.5 C81.3,681.2 80.2,687.8 80.7,689.7 C81.1,691.6 83.2,693.0 84.3,694.1 C85.4,695.2 87.6,696.9 88.7,697.7 C89.8,698.5 92.6,699.0 92.8,699.9 C93.0,700.8 90.9,703.9 90.2,704.3 C89.5,704.7 88.1,703.8 87.3,702.8 C86.5,701.8 85.5,698.4 84.3,697.0 C83.1,695.6 80.1,693.1 78.5,692.6 C76.8,692.1 72.8,692.7 71.8,693.3 C70.9,693.9 71.6,696.7 71.1,697.0 C70.7,697.3 68.6,696.9 68.2,695.5 C67.9,694.1 68.8,688.1 68.2,686.8 C67.7,685.5 65.4,686.2 63.8,686.0 C62.3,685.8 58.4,685.8 56.5,685.3 C54.6,684.8 51.0,683.6 49.9,682.4 C48.8,681.2 48.9,678.1 48.5,676.5 C48.1,674.9 46.9,672.2 47.0,670.7 C47.1,669.2 48.1,666.2 49.2,664.9 C50.3,663.6 53.5,661.3 55.0,661.2 Z" fill="#e15844"/>
<path d="M82.9,712.3 C83.6,711.9 84.1,712.1 85.1,713.0 C86.1,713.9 85.4,715.0 87.3,716.0 C89.2,717.0 90.7,716.6 93.1,717.4 C95.5,718.2 96.2,718.6 97.5,719.6 C98.9,720.6 98.9,720.4 98.9,721.8 C98.9,723.2 99.0,724.2 97.5,725.4 C96.0,726.6 94.8,727.1 92.4,726.9 C90.0,726.7 89.2,726.2 87.3,724.7 C85.4,723.2 85.5,722.7 84.3,720.3 C83.1,717.9 82.4,716.4 82.1,714.5 C81.8,712.6 82.2,712.6 82.9,712.3 Z" fill="#f8a25c"/>
<ellipse cx="59.4" cy="695.1" rx="1.7" ry="1.3" fill="#ff5082"/>
</g>
<text x="75.4" y="607.8" font-size="12" fill="#2a3f5f" text-anchor="start" font-family='"Liberation Sans", sans-serif' font-weight="normal" font-style="normal" >PID 26,345 (Stable)</text>
<polyline points="160.2,719.3 176.0,719.5 167.5,714.2 176.3,714.6 176.6,718.6 164.6,717.9 173.4,716.5 177.7,721.9 170.0,719.5 184.3,720.8" fill="none" stroke="#333" stroke-width="0.7"/>
<polyline points="184.3,720.8 187.2,714.2 185.4,719.7 189.4,719.3" fill="none" stroke="#aaa" stroke-width="0.6"/>
<line x1="39.4" y1="875.1" x2="225.9" y2="875.1" stroke="#edf1f8" stroke-width="0.8"/>
<text x="38.7" y="877.1" font-size="5.5" fill="#2a3f5f" text-anchor="end" font-family='"Liberation Sans", sans-serif' font-weight="normal" font-style="normal" >0</text>
<line x1="39.4" y1="850.6" x2="225.9" y2="850.6" stroke="#edf1f8" stroke-width="0.8"/>
<text x="38.7" y="852.6" font-size="5.5" fill="#2a3f5f" text-anchor="end" font-family='"Liberation Sans", sans-serif' font-weight="normal" font-style="normal" >5</text>
<line x1="39.4" y1="826.1" x2="225.9" y2="826.1" stroke="#edf1f8" stroke-width="0.8"/>
<text x="38.7" y="828.1" font-size="5.5" fill="#2a3f5f" text-anchor="end" font-family='"Liberation Sans", sans-serif' font-weight="normal" font-style="normal" >10</text>
<line x1="39.4" y1="801.7" x2="225.9" y2="801.7" stroke="#edf1f8" stroke-width="0.8"/>
<text x="38.7" y="803.7" font-size="5.5" fill="#2a3f5f" text-anchor="end" font-family='"Liberation Sans", sans-serif' font-weight="normal" font-style="normal" >15</text>
<line x1="39.4" y1="777.2" x2="225.9" y2="777.2" stroke="#edf1f8" stroke-width="0.8"/>
<text x="38.7" y="779.2" font-size="5.5" fill="#2a3f5f" text-anchor="end" font-family='"Liberation Sans", sans-serif' font-weight="normal" font-style="normal" >20</text>
<line x1="56.6" y1="772.7" x2="56.6" y2="894.7" stroke="#edf1f8" stroke-width="0.8"/>
<text x="56.6" y="901" font-size="5.5" fill="#2a3f5f" text-anchor="middle" font-family='"Liberation Sans", sans-serif' font-weight="normal" font-style="normal" >-5</text>
<line x1="91.4" y1="772.7" x2="91.4" y2="894.7" stroke="#edf1f8" stroke-width="0.8"/>
<text x="91.4" y="901" font-size="5.5" fill="#2a3f5f" text-anchor="middle" font-family='"Liberation Sans", sans-serif' font-weight="normal" font-style="normal" >0</text>
<line x1="126.2" y1="772.7" x2="126.2" y2="894.7" stroke="#edf1f8" stroke-width="0.8"/>
<text x="126.2" y="901" font-size="5.5" fill="#2a3f5f" text-anchor="middle" font-family='"Liberation Sans", sans-serif' font-weight="normal" font-style="normal" >5</text>
<line x1="161.1" y1="772.7" x2="161.1" y2="894.7" stroke="#edf1f8" stroke-width="0.8"/>
<text x="161.1" y="901" font-size="5.5" fill="#2a3f5f" text-anchor="middle" font-family='"Liberation Sans", sans-serif' font-weight="normal" font-style="normal" >10</text>
<line x1="195.9" y1="772.7" x2="195.9" y2="894.7" stroke="#edf1f8" stroke-width="0.8"/>
<text x="195.9" y="901" font-size="5.5" fill="#2a3f5f" text-anchor="middle" font-family='"Liberation Sans", sans-serif' font-weight="normal" font-style="normal" >15</text>
<g fill-opacity="0.4" stroke-opacity="0.4">
<path d="M133.8,784.5 C138.5,781.6 141.9,781.8 146.1,780.1 C150.3,778.4 144.4,778.7 147.8,778.9 C151.2,779.1 150.3,778.5 157.4,780.7 C164.5,782.9 163.0,781.0 171.4,786.3 C179.8,791.6 177.1,790.1 185.5,798.5 C193.9,806.8 192.2,804.8 199.5,814.2 C206.8,823.7 205.0,821.0 210.0,829.9 C215.0,838.8 214.5,834.9 216.1,843.9 C217.7,852.8 217.0,851.8 215.2,859.6 C213.4,867.5 214.7,864.3 210.0,870.1 C205.3,875.9 206.8,874.4 199.5,878.9 C192.2,883.4 193.4,882.9 185.5,885.0 C177.6,887.1 180.6,887.2 173.2,885.9 C165.8,884.6 168.8,885.3 160.9,880.6 C153.0,875.9 154.8,878.0 146.9,870.1 C139.0,862.3 140.5,864.4 134.7,854.4 C128.9,844.5 130.4,847.4 127.7,836.9 C125.0,826.4 125.9,829.9 125.6,819.4 C125.3,808.9 125.4,810.9 126.8,801.9 C128.2,793.0 128.2,794.9 130.3,789.7 C132.4,784.4 129.1,787.4 133.8,784.5 Z" fill="#767af8"/>
<path d="M70.1,808.5 C70.0,806.1 70.6,804.2 72.3,801.9 C74.1,799.7 74.9,800.6 77.5,799.1 C80.0,797.5 80.9,796.7 83.3,795.5 C85.7,794.2 85.6,793.6 87.7,793.6 C89.7,793.6 90.7,794.3 92.1,795.5 C93.5,796.6 93.5,796.5 93.5,798.4 C93.5,800.2 92.1,800.6 92.1,803.4 C92.1,806.3 93.0,807.7 93.5,810.7 C94.0,813.8 95.0,815.0 94.3,816.5 C93.6,818.1 92.8,816.8 90.6,817.3 C88.4,817.8 87.2,819.0 84.8,818.7 C82.4,818.4 83.1,817.4 80.4,815.9 C77.6,814.4 75.4,814.0 73.0,812.2 C70.7,810.5 70.3,810.9 70.1,808.5 Z" fill="#12ca94"/>
<path d="M56.9,823.1 C58.4,823.0 60.8,825.5 62.0,826.0 C63.2,826.5 65.0,826.0 65.7,826.8 C66.4,827.6 65.9,831.0 67.2,831.9 C68.6,832.8 74.7,832.4 76.0,833.3 C77.2,834.2 76.0,837.6 76.7,838.4 C77.3,839.2 80.2,838.8 81.1,839.2 C81.9,839.6 82.8,839.7 83.0,841.4 C83.2,843.0 82.1,849.6 82.6,851.5 C83.0,853.5 85.1,854.9 86.2,855.9 C87.3,857.0 89.5,858.8 90.6,859.5 C91.7,860.3 94.5,860.8 94.7,861.7 C94.9,862.6 92.8,865.7 92.1,866.1 C91.4,866.5 90.0,865.6 89.2,864.6 C88.4,863.7 87.4,860.2 86.2,858.8 C85.0,857.5 82.0,854.9 80.4,854.4 C78.7,853.9 74.7,854.6 73.7,855.1 C72.8,855.7 73.5,858.5 73.0,858.8 C72.6,859.1 70.5,858.7 70.1,857.3 C69.8,856.0 70.7,849.9 70.1,848.7 C69.6,847.4 67.3,848.1 65.7,847.9 C64.2,847.7 60.3,847.6 58.4,847.2 C56.5,846.7 52.9,845.4 51.8,844.3 C50.7,843.1 50.8,839.9 50.4,838.4 C50.0,836.8 48.8,834.1 48.9,832.6 C49.0,831.0 50.0,828.1 51.1,826.8 C52.2,825.5 55.4,823.2 56.9,823.1 Z" fill="#e15844"/>
<path d="M84.8,874.1 C85.5,873.8 86.0,873.9 87.0,874.8 C88.0,875.7 87.3,876.8 89.2,877.8 C91.1,878.8 92.6,878.4 95.0,879.2 C97.4,880.0 98.1,880.4 99.4,881.4 C100.8,882.4 100.8,882.2 100.8,883.6 C100.8,884.9 100.9,886.0 99.4,887.2 C97.9,888.4 96.7,888.8 94.3,888.7 C91.9,888.5 91.1,888.0 89.2,886.5 C87.3,884.9 87.4,884.5 86.2,882.1 C85.0,879.7 84.3,878.2 84.0,876.3 C83.7,874.4 84.1,874.5 84.8,874.1 Z" fill="#f8a25c"/>
<ellipse cx="61.3" cy="856.9" rx="1.7" ry="1.3" fill="#ff5082"/>
</g>
<text x="74.6" y="765.4" font-size="12" fill="#2a3f5f" text-anchor="start" font-family='"Liberation Sans", sans-serif' font-weight="normal" font-style="normal" >PID 32,678 (Stable)</text>
<polyline points="141.1,788.7 149.3,782.3 152.0,783.5 150.8,787.5 151.5,784.0" fill="none" stroke="#333" stroke-width="0.8"/>
<polyline points="142.0,786.0 149.0,782.5 152.5,785.2" fill="none" stroke="#999" stroke-width="0.6"/>
<text x="278.3" y="252.2" font-size="16" fill="#000" text-anchor="start" font-family='"Liberation Sans", sans-serif' font-weight="bold" font-style="normal" >d</text>
<text x="299" y="252.2" font-size="13.7" fill="#000" text-anchor="start" font-family='"Liberation Sans", sans-serif' font-weight="normal" font-style="normal" >Proportion of Sleep Periods in each Cluster</text>
<text x="299" y="266.2" font-size="13.7" fill="#000" text-anchor="start" font-family='"Liberation Sans", sans-serif' font-weight="normal" font-style="normal" >per Individual (N=33,152)</text>
<text x="462" y="293.2" font-size="15" fill="#000" text-anchor="middle" font-family='"Liberation Sans", sans-serif' font-weight="normal" font-style="normal" >Cluster</text>
<text x="334.5" y="313.1" font-size="11.3" fill="#2a3f5f" text-anchor="middle" font-family='"Liberation Sans", sans-serif' font-weight="normal" font-style="normal" >0</text>
<line x1="334.5" y1="315.7" x2="334.5" y2="918" stroke="#edf1f8" stroke-width="1"/>
<text x="395.9" y="313.1" font-size="11.3" fill="#2a3f5f" text-anchor="middle" font-family='"Liberation Sans", sans-serif' font-weight="normal" font-style="normal" >1</text>
<line x1="395.9" y1="315.7" x2="395.9" y2="918" stroke="#edf1f8" stroke-width="1"/>
<text x="457.1" y="313.1" font-size="11.3" fill="#2a3f5f" text-anchor="middle" font-family='"Liberation Sans", sans-serif' font-weight="normal" font-style="normal" >2</text>
<line x1="457.1" y1="315.7" x2="457.1" y2="918" stroke="#edf1f8" stroke-width="1"/>
<text x="518.5" y="313.1" font-size="11.3" fill="#2a3f5f" text-anchor="middle" font-family='"Liberation Sans", sans-serif' font-weight="normal" font-style="normal" >3</text>
<line x1="518.5" y1="315.7" x2="518.5" y2="918" stroke="#edf1f8" stroke-width="1"/>
<text x="579.8" y="313.1" font-size="11.3" fill="#2a3f5f" text-anchor="middle" font-family='"Liberation Sans", sans-serif' font-weight="normal" font-style="normal" >4</text>
<line x1="579.8" y1="315.7" x2="579.8" y2="918" stroke="#edf1f8" stroke-width="1"/>
<line x1="303.9" y1="327.2" x2="611" y2="327.2" stroke="#edf1f8" stroke-width="1"/>
<line x1="303.9" y1="336.1" x2="611" y2="336.1" stroke="#edf1f8" stroke-width="1"/>
<line x1="303.9" y1="344.9" x2="611" y2="344.9" stroke="#edf1f8" stroke-width="1"/>
<line x1="303.9" y1="353.8" x2="611" y2="353.8" stroke="#edf1f8" stroke-width="1"/>
<line x1="303.9" y1="362.7" x2="611" y2="362.7" stroke="#edf1f8" stroke-width="1"/>
<line x1="303.9" y1="371.5" x2="611" y2="371.5" stroke="#edf1f8" stroke-width="1"/>
<line x1="303.9" y1="380.4" x2="611" y2="380.4" stroke="#edf1f8" stroke-width="1"/>
<line x1="303.9" y1="389.3" x2="611" y2="389.3" stroke="#edf1f8" stroke-width="1"/>
<line x1="303.9" y1="398.1" x2="611" y2="398.1" stroke="#edf1f8" stroke-width="1"/>
<line x1="303.9" y1="407.0" x2="611" y2="407.0" stroke="#edf1f8" stroke-width="1"/>
<line x1="303.9" y1="415.9" x2="611" y2="415.9" stroke="#edf1f8" stroke-width="1"/>
<line x1="303.9" y1="424.7" x2="611" y2="424.7" stroke="#edf1f8" stroke-width="1"/>
<line x1="303.9" y1="433.6" x2="611" y2="433.6" stroke="#edf1f8" stroke-width="1"/>
<line x1="303.9" y1="442.5" x2="611" y2="442.5" stroke="#edf1f8" stroke-width="1"/>
<line x1="303.9" y1="451.3" x2="611" y2="451.3" stroke="#edf1f8" stroke-width="1"/>
<line x1="303.9" y1="460.2" x2="611" y2="460.2" stroke="#edf1f8" stroke-width="1"/>
<line x1="303.9" y1="469.1" x2="611" y2="469.1" stroke="#edf1f8" stroke-width="1"/>
<line x1="303.9" y1="477.9" x2="611" y2="477.9" stroke="#edf1f8" stroke-width="1"/>
<line x1="303.9" y1="486.8" x2="611" y2="486.8" stroke="#edf1f8" stroke-width="1"/>
<line x1="303.9" y1="495.7" x2="611" y2="495.7" stroke="#edf1f8" stroke-width="1"/>
<line x1="303.9" y1="504.5" x2="611" y2="504.5" stroke="#edf1f8" stroke-width="1"/>
<line x1="303.9" y1="513.4" x2="611" y2="513.4" stroke="#edf1f8" stroke-width="1"/>
<line x1="303.9" y1="522.3" x2="611" y2="522.3" stroke="#edf1f8" stroke-width="1"/>
<line x1="303.9" y1="531.1" x2="611" y2="531.1" stroke="#edf1f8" stroke-width="1"/>
<line x1="303.9" y1="540.0" x2="611" y2="540.0" stroke="#edf1f8" stroke-width="1"/>
<line x1="303.9" y1="548.9" x2="611" y2="548.9" stroke="#edf1f8" stroke-width="1"/>
<line x1="303.9" y1="557.7" x2="611" y2="557.7" stroke="#edf1f8" stroke-width="1"/>
<line x1="303.9" y1="566.6" x2="611" y2="566.6" stroke="#edf1f8" stroke-width="1"/>
<line x1="303.9" y1="575.5" x2="611" y2="575.5" stroke="#edf1f8" stroke-width="1"/>
<line x1="303.9" y1="584.3" x2="611" y2="584.3" stroke="#edf1f8" stroke-width="1"/>
<line x1="303.9" y1="593.2" x2="611" y2="593.2" stroke="#edf1f8" stroke-width="1"/>
<line x1="303.9" y1="602.1" x2="611" y2="602.1" stroke="#edf1f8" stroke-width="1"/>
<line x1="303.9" y1="610.9" x2="611" y2="610.9" stroke="#edf1f8" stroke-width="1"/>
<line x1="303.9" y1="619.8" x2="611" y2="619.8" stroke="#edf1f8" stroke-width="1"/>
<line x1="303.9" y1="628.7" x2="611" y2="628.7" stroke="#edf1f8" stroke-width="1"/>
<line x1="303.9" y1="637.5" x2="611" y2="637.5" stroke="#edf1f8" stroke-width="1"/>
<line x1="303.9" y1="646.4" x2="611" y2="646.4" stroke="#edf1f8" stroke-width="1"/>
<line x1="303.9" y1="655.3" x2="611" y2="655.3" stroke="#edf1f8" stroke-width="1"/>
<line x1="303.9" y1="664.1" x2="611" y2="664.1" stroke="#edf1f8" stroke-width="1"/>
<line x1="303.9" y1="673.0" x2="611" y2="673.0" stroke="#edf1f8" stroke-width="1"/>
<line x1="303.9" y1="681.9" x2="611" y2="681.9" stroke="#edf1f8" stroke-width="1"/>
<line x1="303.9" y1="690.7" x2="611" y2="690.7" stroke="#edf1f8" stroke-width="1"/>
<line x1="303.9" y1="699.6" x2="611" y2="699.6" stroke="#edf1f8" stroke-width="1"/>
<line x1="303.9" y1="708.5" x2="611" y2="708.5" stroke="#edf1f8" stroke-width="1"/>
<line x1="303.9" y1="717.3" x2="611" y2="717.3" stroke="#edf1f8" stroke-width="1"/>
<line x1="303.9" y1="726.2" x2="611" y2="726.2" stroke="#edf1f8" stroke-width="1"/>
<line x1="303.9" y1="735.1" x2="611" y2="735.1" stroke="#edf1f8" stroke-width="1"/>
<line x1="303.9" y1="743.9" x2="611" y2="743.9" stroke="#edf1f8" stroke-width="1"/>
<line x1="303.9" y1="752.8" x2="611" y2="752.8" stroke="#edf1f8" stroke-width="1"/>
<line x1="303.9" y1="761.7" x2="611" y2="761.7" stroke="#edf1f8" stroke-width="1"/>
<line x1="303.9" y1="770.5" x2="611" y2="770.5" stroke="#edf1f8" stroke-width="1"/>
<line x1="303.9" y1="779.4" x2="611" y2="779.4" stroke="#edf1f8" stroke-width="1"/>
<line x1="303.9" y1="788.3" x2="611" y2="788.3" stroke="#edf1f8" stroke-width="1"/>
<line x1="303.9" y1="797.2" x2="611" y2="797.2" stroke="#edf1f8" stroke-width="1"/>
<line x1="303.9" y1="806.0" x2="611" y2="806.0" stroke="#edf1f8" stroke-width="1"/>
<line x1="303.9" y1="814.9" x2="611" y2="814.9" stroke="#edf1f8" stroke-width="1"/>
<line x1="303.9" y1="823.8" x2="611" y2="823.8" stroke="#edf1f8" stroke-width="1"/>
<line x1="303.9" y1="832.6" x2="611" y2="832.6" stroke="#edf1f8" stroke-width="1"/>
<line x1="303.9" y1="841.5" x2="611" y2="841.5" stroke="#edf1f8" stroke-width="1"/>
<line x1="303.9" y1="850.4" x2="611" y2="850.4" stroke="#edf1f8" stroke-width="1"/>
<line x1="303.9" y1="859.2" x2="611" y2="859.2" stroke="#edf1f8" stroke-width="1"/>
<line x1="303.9" y1="868.1" x2="611" y2="868.1" stroke="#edf1f8" stroke-width="1"/>
<line x1="303.9" y1="877.0" x2="611" y2="877.0" stroke="#edf1f8" stroke-width="1"/>
<line x1="303.9" y1="885.8" x2="611" y2="885.8" stroke="#edf1f8" stroke-width="1"/>
<line x1="303.9" y1="894.7" x2="611" y2="894.7" stroke="#edf1f8" stroke-width="1"/>
<line x1="303.9" y1="903.6" x2="611" y2="903.6" stroke="#edf1f8" stroke-width="1"/>
<line x1="303.9" y1="912.4" x2="611" y2="912.4" stroke="#edf1f8" stroke-width="1"/>
<defs><linearGradient id="col0" x1="0" y1="0" x2="0" y2="1" gradientUnits="objectBoundingBox"><stop offset="0.0000" stop-color="#00148c"/><stop offset="0.0137" stop-color="#1478c8"/><stop offset="0.0292" stop-color="#00f0f0"/><stop offset="0.0377" stop-color="#0afae6"/><stop offset="0.0498" stop-color="#46f0be"/><stop offset="0.0635" stop-color="#6efa78"/><stop offset="0.0823" stop-color="#bef528"/><stop offset="0.1029" stop-color="#fffa00"/><stop offset="0.1321" stop-color="#ffaa00"/><stop offset="0.1681" stop-color="#ff8200"/><stop offset="0.1990" stop-color="#ff5a00"/><stop offset="0.2282" stop-color="#ff3200"/><stop offset="0.2573" stop-color="#ff1e00"/><stop offset="0.3208" stop-color="#fa0000"/><stop offset="0.4924" stop-color="#c80000"/><stop offset="0.6571" stop-color="#aa0000"/><stop offset="0.7965" stop-color="#8c0000"/><stop offset="0.7981" stop-color="#800000"/><stop offset="0.9995" stop-color="#800000"/></linearGradient><linearGradient id="cbar" x1="0" y1="0" x2="0" y2="1"><stop offset="0.0000" stop-color="#780000"/><stop offset="0.1967" stop-color="#ff0000"/><stop offset="0.3135" stop-color="#ff7800"/><stop offset="0.4064" stop-color="#ffff00"/><stop offset="0.5222" stop-color="#8cfa78"/><stop offset="0.6112" stop-color="#00fafa"/><stop offset="0.7312" stop-color="#1496c8"/><stop offset="0.8357" stop-color="#0046aa"/><stop offset="0.9401" stop-color="#00148c"/><stop offset="1.0000" stop-color="#000083"/></linearGradient></defs>
<rect x="303.9" y="326.0" width="61.3" height="582.9" fill="url(#col0)"/>
<rect x="365.2" y="325.7" width="61.5" height="1.60" fill="#8c3c50"/>
<rect x="365.2" y="327.3" width="61.5" height="1.20" fill="#6eaad2"/>
<rect x="365.2" y="328.5" width="61.5" height="1.30" fill="#aa7d55"/>
<rect x="365.2" y="329.8" width="61.5" height="1.20" fill="#14bee1"/>
<rect x="365.2" y="331.0" width="61.5" height="2.00" fill="#50b496"/>
<rect x="365.2" y="333.0" width="61.5" height="2.10" fill="#aa7d55"/>
<rect x="365.2" y="335.1" width="61.5" height="1.20" fill="#14bee1"/>
<rect x="365.2" y="336.3" width="61.5" height="1.60" fill="#96be5a"/>
<rect x="365.2" y="337.9" width="61.5" height="2.50" fill="#006ec8"/>
<rect x="365.2" y="340.4" width="61.5" height="1.60" fill="#50b496"/>
<rect x="365.2" y="342.0" width="61.5" height="1.60" fill="#14bee1"/>
<rect x="365.2" y="343.6" width="61.5" height="1.30" fill="#3ca5b9"/>
<rect x="365.2" y="344.9" width="61.5" height="1.60" fill="#6eaad2"/>
<rect x="365.2" y="346.5" width="61.5" height="2.80" fill="#14bee1"/>
<rect x="365.2" y="349.3" width="61.5" height="1.30" fill="#006ec8"/>
<rect x="365.2" y="350.6" width="61.5" height="1.20" fill="#50b496"/>
<rect x="365.2" y="351.8" width="61.5" height="0.80" fill="#14bee1"/>
<rect x="365.2" y="352.6" width="61.5" height="1.20" fill="#000f8c"/>
<rect x="365.2" y="353.8" width="61.5" height="2.50" fill="#00dcf0"/>
<rect x="365.2" y="356.3" width="61.5" height="2.00" fill="#64f5aa"/>
<rect x="365.2" y="358.3" width="61.5" height="1.70" fill="#14bee1"/>
<rect x="365.2" y="360.0" width="61.5" height="2.80" fill="#0032a0"/>
<rect x="365.2" y="362.8" width="61.5" height="1.60" fill="#cdd2f0"/>
<rect x="365.2" y="364.4" width="61.5" height="2.10" fill="#3ca5b9"/>
<rect x="365.2" y="366.5" width="61.5" height="2.40" fill="#0032a0"/>
<rect x="365.2" y="368.9" width="61.5" height="4.10" fill="#006ec8"/>
<rect x="365.2" y="373.0" width="61.5" height="1.20" fill="#7c86cc"/>
<rect x="365.2" y="374.2" width="61.5" height="1.70" fill="#14bee1"/>
<rect x="365.2" y="375.9" width="61.5" height="1.60" fill="#6eaad2"/>
<rect x="365.2" y="377.5" width="61.5" height="1.60" fill="#14bee1"/>
<rect x="365.2" y="379.1" width="61.5" height="1.70" fill="#000f8c"/>
<rect x="365.2" y="380.8" width="61.5" height="2.00" fill="#00dcf0"/>
<rect x="365.2" y="382.8" width="61.5" height="3.30" fill="#000f8c"/>
<rect x="365.2" y="386.1" width="61.5" height="2.00" fill="#7c86cc"/>
<rect x="365.2" y="388.1" width="61.5" height="1.70" fill="#006ec8"/>
<rect x="365.2" y="389.8" width="61.5" height="1.60" fill="#000f8c"/>
<rect x="365.2" y="391.4" width="61.5" height="3.30" fill="#006ec8"/>
<rect x="365.2" y="394.7" width="61.5" height="1.20" fill="#7c86cc"/>
<rect x="365.2" y="395.9" width="61.5" height="1.40" fill="#7c86cc"/>
<rect x="365.2" y="397.3" width="61.5" height="1.90" fill="#006ec8"/>
<rect x="365.2" y="399.2" width="61.5" height="1.30" fill="#000f8c"/>
<rect x="365.2" y="400.5" width="61.5" height="1.90" fill="#006ec8"/>
<rect x="365.2" y="402.4" width="61.5" height="0.90" fill="#000f8c"/>
<rect x="365.2" y="403.3" width="61.5" height="3.70" fill="#14bee1"/>
<rect x="365.2" y="407.0" width="61.5" height="3.00" fill="#0050b4"/>
<rect x="365.2" y="410.0" width="61.5" height="3.00" fill="#0032a0"/>
<rect x="365.2" y="413.0" width="61.5" height="1.00" fill="#000f8c"/>
<rect x="365.2" y="414.0" width="61.5" height="1.80" fill="#cdd2f0"/>
<rect x="365.2" y="415.8" width="61.5" height="2.80" fill="#0032a0"/>
<rect x="365.2" y="418.6" width="61.5" height="1.40" fill="#7c86cc"/>
<rect x="365.2" y="420.0" width="61.5" height="2.80" fill="#0032a0"/>
<rect x="365.2" y="422.8" width="61.5" height="2.70" fill="#006ec8"/>
<rect x="365.2" y="425.5" width="61.5" height="3.70" fill="#000f8c"/>
<rect x="365.2" y="429.2" width="61.5" height="1.90" fill="#006ec8"/>
<rect x="365.2" y="431.1" width="61.5" height="3.20" fill="#000f8c"/>
<rect x="365.2" y="434.3" width="61.5" height="1.90" fill="#7c86cc"/>
<rect x="365.2" y="436.2" width="61.5" height="1.80" fill="#0032a0"/>
<rect x="365.2" y="438.0" width="61.5" height="1.40" fill="#7c86cc"/>
<rect x="365.2" y="439.4" width="61.5" height="1.90" fill="#000f8c"/>
<rect x="365.2" y="441.3" width="61.5" height="3.70" fill="#006ec8"/>
<rect x="365.2" y="445.0" width="61.5" height="3.70" fill="#0050b4"/>
<rect x="365.2" y="448.7" width="61.5" height="1.30" fill="#000f8c"/>
<rect x="365.2" y="450.0" width="61.5" height="1.40" fill="#cdd2f0"/>
<rect x="365.2" y="451.4" width="61.5" height="1.00" fill="#000f8c"/>
<rect x="365.2" y="452.4" width="61.5" height="0.90" fill="#7c86cc"/>
<rect x="365.2" y="453.3" width="61.5" height="1.80" fill="#000f8c"/>
<rect x="365.2" y="455.1" width="61.5" height="6.50" fill="#0050b4"/>
<rect x="365.2" y="461.6" width="61.5" height="1.40" fill="#000f8c"/>
<rect x="365.2" y="463.0" width="61.5" height="1.80" fill="#cdd2f0"/>
<rect x="365.2" y="464.8" width="61.5" height="4.20" fill="#0032a0"/>
<rect x="365.2" y="469.0" width="61.5" height="1.40" fill="#000f8c"/>
<rect x="365.2" y="470.4" width="61.5" height="3.20" fill="#7c86cc"/>
<rect x="365.2" y="473.6" width="61.5" height="2.80" fill="#000f8c"/>
<rect x="365.2" y="476.4" width="61.5" height="2.80" fill="#0032a0"/>
<rect x="365.2" y="479.2" width="61.5" height="0.80" fill="#cdd2f0"/>
<rect x="365.2" y="480.0" width="61.5" height="2.60" fill="#cdd2f0"/>
<rect x="365.2" y="482.6" width="61.5" height="3.40" fill="#000f8c"/>
<rect x="365.2" y="486.0" width="61.5" height="2.20" fill="#7c86cc"/>
<rect x="365.2" y="488.2" width="61.5" height="1.60" fill="#000f8c"/>
<rect x="365.2" y="489.8" width="61.5" height="1.70" fill="#7c86cc"/>
<rect x="365.2" y="491.5" width="61.5" height="8.80" fill="#0032a0"/>
<rect x="365.2" y="500.3" width="61.5" height="9.30" fill="#000f8c"/>
<rect x="365.2" y="515.1" width="61.5" height="2.10" fill="#7c86cc"/>
<rect x="365.2" y="517.2" width="61.5" height="7.50" fill="#000f8c"/>
<rect x="365.2" y="524.7" width="61.5" height="2.60" fill="#7c86cc"/>
<rect x="365.2" y="527.3" width="61.5" height="5.90" fill="#000f8c"/>
<rect x="365.2" y="533.2" width="61.5" height="7.60" fill="#0032a0"/>
<rect x="365.2" y="543.3" width="61.5" height="3.40" fill="#000f8c"/>
<rect x="365.2" y="546.7" width="61.5" height="2.50" fill="#7c86cc"/>
<rect x="365.2" y="549.2" width="61.5" height="3.40" fill="#000f8c"/>
<rect x="365.2" y="552.6" width="61.5" height="2.00" fill="#cdd2f0"/>
<rect x="365.2" y="554.6" width="61.5" height="5.60" fill="#000f8c"/>
<rect x="365.2" y="560.2" width="61.5" height="1.60" fill="#7c86cc"/>
<rect x="365.2" y="561.8" width="61.5" height="7.60" fill="#000f8c"/>
<rect x="365.2" y="573.1" width="61.5" height="8.10" fill="#0032a0"/>
<rect x="365.2" y="581.2" width="61.5" height="9.30" fill="#000f8c"/>
<rect x="365.2" y="596.4" width="61.5" height="2.50" fill="#cdd2f0"/>
<rect x="365.2" y="598.9" width="61.5" height="2.60" fill="#7c86cc"/>
<rect x="365.2" y="601.5" width="61.5" height="5.90" fill="#000f8c"/>
<rect x="365.2" y="610.8" width="61.5" height="3.30" fill="#000f8c"/>
<rect x="365.2" y="614.1" width="61.5" height="2.60" fill="#cdd2f0"/>
<rect x="365.2" y="616.7" width="61.5" height="4.20" fill="#000f8c"/>
<rect x="365.2" y="625.1" width="61.5" height="7.10" fill="#000f8c"/>
<rect x="365.2" y="632.2" width="61.5" height="2.20" fill="#cdd2f0"/>
<rect x="365.2" y="634.4" width="61.5" height="6.20" fill="#000f8c"/>
<rect x="365.2" y="644.5" width="61.5" height="7.10" fill="#000f8c"/>
<rect x="365.2" y="655.0" width="61.5" height="7.60" fill="#000f8c"/>
<rect x="365.2" y="662.6" width="61.5" height="2.80" fill="#cdd2f0"/>
<rect x="365.2" y="665.4" width="61.5" height="2.20" fill="#000f8c"/>
<rect x="365.2" y="667.6" width="61.5" height="3.40" fill="#7c86cc"/>
<rect x="365.2" y="671.0" width="61.5" height="4.20" fill="#000f8c"/>
<rect x="365.2" y="677.7" width="61.5" height="1.70" fill="#000f8c"/>
<rect x="365.2" y="679.4" width="61.5" height="2.20" fill="#7c86cc"/>
<rect x="365.2" y="681.6" width="61.5" height="5.40" fill="#000f8c"/>
<rect x="365.2" y="692.1" width="61.5" height="14.30" fill="#000f8c"/>
<rect x="365.2" y="719.9" width="61.5" height="4.30" fill="#7c86cc"/>
<rect x="365.2" y="724.2" width="61.5" height="1.70" fill="#000f8c"/>
<rect x="365.2" y="725.9" width="61.5" height="0.80" fill="#7c86cc"/>
<rect x="365.2" y="728.2" width="61.5" height="1.50" fill="#7c86cc"/>
<rect x="365.2" y="729.7" width="61.5" height="2.10" fill="#000f8c"/>
<rect x="365.2" y="733.0" width="61.5" height="2.50" fill="#000f8c"/>
<rect x="365.2" y="736.6" width="61.5" height="1.40" fill="#7c86cc"/>
<rect x="365.2" y="738.0" width="61.5" height="2.50" fill="#000f8c"/>
<rect x="365.2" y="742.6" width="61.5" height="1.30" fill="#7c86cc"/>
<rect x="365.2" y="743.9" width="61.5" height="1.70" fill="#000f8c"/>
<rect x="365.2" y="745.6" width="61.5" height="2.10" fill="#7c86cc"/>
<rect x="365.2" y="749.3" width="61.5" height="5.90" fill="#7c86cc"/>
<rect x="365.2" y="755.2" width="61.5" height="1.70" fill="#000f8c"/>
<rect x="365.2" y="756.9" width="61.5" height="2.50" fill="#7c86cc"/>
<rect x="365.2" y="761.1" width="61.5" height="1.60" fill="#7c86cc"/>
<rect x="365.2" y="765.3" width="61.5" height="2.00" fill="#7c86cc"/>
<rect x="365.2" y="767.3" width="61.5" height="1.30" fill="#cdd2f0"/>
<rect x="365.2" y="768.6" width="61.5" height="1.30" fill="#7c86cc"/>
<rect x="365.2" y="771.1" width="61.5" height="2.10" fill="#000f8c"/>
<rect x="365.2" y="773.2" width="61.5" height="3.40" fill="#cdd2f0"/>
<rect x="365.2" y="778.2" width="61.5" height="1.70" fill="#7c86cc"/>
<rect x="365.2" y="781.2" width="61.5" height="1.20" fill="#000f8c"/>
<rect x="365.2" y="784.9" width="61.5" height="3.00" fill="#7c86cc"/>
<rect x="365.2" y="787.9" width="61.5" height="1.20" fill="#cdd2f0"/>
<rect x="365.2" y="789.1" width="61.5" height="1.20" fill="#7c86cc"/>
<rect x="426.7" y="326.9" width="61.5" height="2.00" fill="#006ec8"/>
<rect x="426.7" y="328.9" width="61.5" height="2.10" fill="#0032a0"/>
<rect x="426.7" y="331.0" width="61.5" height="1.60" fill="#6eaad2"/>
<rect x="426.7" y="332.6" width="61.5" height="1.20" fill="#0032a0"/>
<rect x="426.7" y="333.8" width="61.5" height="1.30" fill="#96e6e6"/>
<rect x="426.7" y="335.1" width="61.5" height="1.20" fill="#0032a0"/>
<rect x="426.7" y="336.3" width="61.5" height="1.20" fill="#6eaad2"/>
<rect x="426.7" y="337.5" width="61.5" height="2.90" fill="#006ec8"/>
<rect x="426.7" y="340.4" width="61.5" height="4.50" fill="#000f8c"/>
<rect x="426.7" y="344.9" width="61.5" height="1.20" fill="#96be5a"/>
<rect x="426.7" y="346.1" width="61.5" height="1.20" fill="#000f8c"/>
<rect x="426.7" y="347.3" width="61.5" height="1.20" fill="#6eaad2"/>
<rect x="426.7" y="348.5" width="61.5" height="1.30" fill="#006ec8"/>
<rect x="426.7" y="349.8" width="61.5" height="1.60" fill="#7c86cc"/>
<rect x="426.7" y="351.4" width="61.5" height="2.80" fill="#0032a0"/>
<rect x="426.7" y="354.2" width="61.5" height="1.70" fill="#7c86cc"/>
<rect x="426.7" y="359.1" width="61.5" height="3.30" fill="#0032a0"/>
<rect x="426.7" y="362.4" width="61.5" height="2.00" fill="#3ca5b9"/>
<rect x="426.7" y="364.4" width="61.5" height="1.30" fill="#0032a0"/>
<rect x="426.7" y="365.7" width="61.5" height="1.60" fill="#cdd2f0"/>
<rect x="426.7" y="367.3" width="61.5" height="6.90" fill="#000f8c"/>
<rect x="426.7" y="374.2" width="61.5" height="1.30" fill="#7c86cc"/>
<rect x="426.7" y="375.5" width="61.5" height="2.00" fill="#006ec8"/>
<rect x="426.7" y="377.5" width="61.5" height="1.60" fill="#6eaad2"/>
<rect x="426.7" y="379.1" width="61.5" height="1.70" fill="#000f8c"/>
<rect x="426.7" y="380.8" width="61.5" height="2.80" fill="#cdd2f0"/>
<rect x="426.7" y="383.6" width="61.5" height="2.90" fill="#000f8c"/>
<rect x="426.7" y="386.5" width="61.5" height="1.20" fill="#006ec8"/>
<rect x="426.7" y="387.7" width="61.5" height="2.10" fill="#cdd2f0"/>
<rect x="426.7" y="389.8" width="61.5" height="1.60" fill="#000f8c"/>
<rect x="426.7" y="391.4" width="61.5" height="2.00" fill="#7c86cc"/>
<rect x="426.7" y="393.4" width="61.5" height="1.60" fill="#000f8c"/>
<rect x="426.7" y="395.0" width="61.5" height="1.90" fill="#6eaad2"/>
<rect x="426.7" y="396.9" width="61.5" height="2.30" fill="#0032a0"/>
<rect x="426.7" y="399.2" width="61.5" height="3.20" fill="#000f8c"/>
<rect x="426.7" y="406.1" width="61.5" height="1.90" fill="#000f8c"/>
<rect x="426.7" y="408.0" width="61.5" height="1.80" fill="#7c86cc"/>
<rect x="426.7" y="409.8" width="61.5" height="3.20" fill="#0032a0"/>
<rect x="426.7" y="413.0" width="61.5" height="2.80" fill="#006ec8"/>
<rect x="426.7" y="415.8" width="61.5" height="6.00" fill="#0032a0"/>
<rect x="426.7" y="421.8" width="61.5" height="1.40" fill="#000f8c"/>
<rect x="426.7" y="423.2" width="61.5" height="1.90" fill="#cdd2f0"/>
<rect x="426.7" y="425.1" width="61.5" height="1.40" fill="#0032a0"/>
<rect x="426.7" y="426.5" width="61.5" height="0.90" fill="#7c86cc"/>
<rect x="426.7" y="427.4" width="61.5" height="2.30" fill="#000f8c"/>
<rect x="426.7" y="429.7" width="61.5" height="1.40" fill="#cdd2f0"/>
<rect x="426.7" y="431.1" width="61.5" height="1.80" fill="#000f8c"/>
<rect x="426.7" y="432.9" width="61.5" height="1.00" fill="#7c86cc"/>
<rect x="426.7" y="433.9" width="61.5" height="4.60" fill="#0032a0"/>
<rect x="426.7" y="438.5" width="61.5" height="1.80" fill="#7c86cc"/>
<rect x="426.7" y="440.3" width="61.5" height="1.40" fill="#000f8c"/>
<rect x="426.7" y="441.7" width="61.5" height="1.90" fill="#cdd2f0"/>
<rect x="426.7" y="443.6" width="61.5" height="1.80" fill="#000f8c"/>
<rect x="426.7" y="445.4" width="61.5" height="0.90" fill="#7c86cc"/>
<rect x="426.7" y="446.3" width="61.5" height="7.90" fill="#0032a0"/>
<rect x="426.7" y="454.2" width="61.5" height="0.90" fill="#000f8c"/>
<rect x="426.7" y="458.4" width="61.5" height="4.10" fill="#000f8c"/>
<rect x="426.7" y="462.5" width="61.5" height="2.80" fill="#0050b4"/>
<rect x="426.7" y="465.3" width="61.5" height="1.40" fill="#000f8c"/>
<rect x="426.7" y="466.7" width="61.5" height="1.40" fill="#cdd2f0"/>
<rect x="426.7" y="468.1" width="61.5" height="1.80" fill="#000f8c"/>
<rect x="426.7" y="469.9" width="61.5" height="1.40" fill="#7c86cc"/>
<rect x="426.7" y="471.3" width="61.5" height="4.20" fill="#0032a0"/>
<rect x="426.7" y="475.5" width="61.5" height="1.80" fill="#7c86cc"/>
<rect x="426.7" y="477.3" width="61.5" height="2.70" fill="#0032a0"/>
<rect x="426.7" y="480.0" width="61.5" height="1.70" fill="#000f8c"/>
<rect x="426.7" y="481.7" width="61.5" height="2.10" fill="#cdd2f0"/>
<rect x="426.7" y="483.8" width="61.5" height="1.30" fill="#000f8c"/>
<rect x="426.7" y="485.1" width="61.5" height="2.00" fill="#7c86cc"/>
<rect x="426.7" y="487.1" width="61.5" height="5.60" fill="#000f8c"/>
<rect x="426.7" y="498.6" width="61.5" height="5.90" fill="#000f8c"/>
<rect x="426.7" y="504.5" width="61.5" height="3.40" fill="#7c86cc"/>
<rect x="426.7" y="507.9" width="61.5" height="5.90" fill="#0032a0"/>
<rect x="426.7" y="513.8" width="61.5" height="2.50" fill="#cdd2f0"/>
<rect x="426.7" y="516.3" width="61.5" height="2.20" fill="#000f8c"/>
<rect x="426.7" y="518.5" width="61.5" height="2.90" fill="#7c86cc"/>
<rect x="426.7" y="521.4" width="61.5" height="2.50" fill="#000f8c"/>
<rect x="426.7" y="523.9" width="61.5" height="3.40" fill="#cdd2f0"/>
<rect x="426.7" y="527.3" width="61.5" height="5.90" fill="#0032a0"/>
<rect x="426.7" y="536.6" width="61.5" height="2.50" fill="#7c86cc"/>
<rect x="426.7" y="539.1" width="61.5" height="4.20" fill="#000f8c"/>
<rect x="426.7" y="543.3" width="61.5" height="1.70" fill="#7c86cc"/>
<rect x="426.7" y="545.0" width="61.5" height="2.50" fill="#cdd2f0"/>
<rect x="426.7" y="547.5" width="61.5" height="1.70" fill="#000f8c"/>
<rect x="426.7" y="549.2" width="61.5" height="2.50" fill="#7c86cc"/>
<rect x="426.7" y="551.7" width="61.5" height="2.60" fill="#000f8c"/>
<rect x="426.7" y="554.3" width="61.5" height="1.60" fill="#7c86cc"/>
<rect x="426.7" y="555.9" width="61.5" height="5.10" fill="#000f8c"/>
<rect x="426.7" y="565.2" width="61.5" height="5.90" fill="#000f8c"/>
<rect x="426.7" y="571.1" width="61.5" height="2.60" fill="#0032a0"/>
<rect x="426.7" y="573.7" width="61.5" height="2.50" fill="#cdd2f0"/>
<rect x="426.7" y="576.2" width="61.5" height="1.70" fill="#7c86cc"/>
<rect x="426.7" y="582.9" width="61.5" height="8.50" fill="#000f8c"/>
<rect x="426.7" y="591.4" width="61.5" height="1.60" fill="#cdd2f0"/>
<rect x="426.7" y="593.0" width="61.5" height="3.40" fill="#000f8c"/>
<rect x="426.7" y="596.4" width="61.5" height="2.50" fill="#7c86cc"/>
<rect x="426.7" y="598.9" width="61.5" height="2.60" fill="#000f8c"/>
<rect x="426.7" y="605.7" width="61.5" height="2.50" fill="#000f8c"/>
<rect x="426.7" y="608.2" width="61.5" height="2.60" fill="#7c86cc"/>
<rect x="426.7" y="610.8" width="61.5" height="5.00" fill="#000f8c"/>
<rect x="426.7" y="615.8" width="61.5" height="4.20" fill="#cdd2f0"/>
<rect x="426.7" y="623.4" width="61.5" height="9.70" fill="#000f8c"/>
<rect x="426.7" y="633.1" width="61.5" height="2.50" fill="#cdd2f0"/>
<rect x="426.7" y="639.0" width="61.5" height="5.00" fill="#000f8c"/>
<rect x="426.7" y="644.0" width="61.5" height="3.40" fill="#cdd2f0"/>
<rect x="426.7" y="647.4" width="61.5" height="1.70" fill="#000f8c"/>
<rect x="426.7" y="650.8" width="61.5" height="4.20" fill="#000f8c"/>
<rect x="426.7" y="655.0" width="61.5" height="2.50" fill="#7c86cc"/>
<rect x="426.7" y="657.5" width="61.5" height="1.70" fill="#cdd2f0"/>
<rect x="426.7" y="662.6" width="61.5" height="3.40" fill="#000f8c"/>
<rect x="426.7" y="666.0" width="61.5" height="2.50" fill="#7c86cc"/>
<rect x="426.7" y="671.0" width="61.5" height="2.50" fill="#cdd2f0"/>
<rect x="426.7" y="673.5" width="61.5" height="4.20" fill="#000f8c"/>
<rect x="426.7" y="677.7" width="61.5" height="3.40" fill="#7c86cc"/>
<rect x="426.7" y="686.2" width="61.5" height="4.20" fill="#000f8c"/>
<rect x="426.7" y="690.4" width="61.5" height="2.50" fill="#cdd2f0"/>
<rect x="426.7" y="706.4" width="61.5" height="11.00" fill="#000f8c"/>
<rect x="426.7" y="720.9" width="61.5" height="2.90" fill="#7c86cc"/>
<rect x="426.7" y="726.3" width="61.5" height="4.20" fill="#000f8c"/>
<rect x="426.7" y="732.2" width="61.5" height="3.30" fill="#7c86cc"/>
<rect x="426.7" y="735.5" width="61.5" height="2.10" fill="#000f8c"/>
<rect x="426.7" y="737.6" width="61.5" height="1.70" fill="#7c86cc"/>
<rect x="426.7" y="740.5" width="61.5" height="2.10" fill="#000f8c"/>
<rect x="426.7" y="742.6" width="61.5" height="3.30" fill="#7c86cc"/>
<rect x="426.7" y="747.2" width="61.5" height="2.60" fill="#000f8c"/>
<rect x="426.7" y="749.8" width="61.5" height="1.20" fill="#cdd2f0"/>
<rect x="426.7" y="751.0" width="61.5" height="2.50" fill="#000f8c"/>
<rect x="426.7" y="753.5" width="61.5" height="5.10" fill="#7c86cc"/>
<rect x="426.7" y="758.6" width="61.5" height="2.00" fill="#000f8c"/>
<rect x="426.7" y="762.7" width="61.5" height="2.60" fill="#000f8c"/>
<rect x="426.7" y="766.9" width="61.5" height="2.10" fill="#7c86cc"/>
<rect x="426.7" y="769.0" width="61.5" height="1.70" fill="#000f8c"/>
<rect x="426.7" y="770.7" width="61.5" height="1.30" fill="#cdd2f0"/>
<rect x="426.7" y="772.0" width="61.5" height="1.60" fill="#7c86cc"/>
<rect x="426.7" y="773.6" width="61.5" height="2.50" fill="#000f8c"/>
<rect x="426.7" y="777.8" width="61.5" height="3.40" fill="#7c86cc"/>
<rect x="426.7" y="781.2" width="61.5" height="3.30" fill="#000f8c"/>
<rect x="426.7" y="786.2" width="61.5" height="4.10" fill="#7c86cc"/>
<rect x="488.1" y="326.9" width="61.5" height="1.20" fill="#6eaad2"/>
<rect x="488.1" y="328.1" width="61.5" height="2.10" fill="#2a3caa"/>
<rect x="488.1" y="330.2" width="61.5" height="2.00" fill="#8a96d8"/>
<rect x="488.1" y="332.2" width="61.5" height="2.00" fill="#96e6e6"/>
<rect x="488.1" y="334.2" width="61.5" height="2.10" fill="#2a3caa"/>
<rect x="488.1" y="336.3" width="61.5" height="1.60" fill="#c3cbee"/>
<rect x="488.1" y="337.9" width="61.5" height="2.90" fill="#4252b6"/>
<rect x="488.1" y="340.8" width="61.5" height="2.40" fill="#001496"/>
<rect x="488.1" y="343.2" width="61.5" height="3.30" fill="#8a96d8"/>
<rect x="488.1" y="346.5" width="61.5" height="2.00" fill="#2a3caa"/>
<rect x="488.1" y="348.5" width="61.5" height="1.70" fill="#c3cbee"/>
<rect x="488.1" y="350.2" width="61.5" height="2.80" fill="#4252b6"/>
<rect x="488.1" y="353.0" width="61.5" height="2.50" fill="#8a96d8"/>
<rect x="488.1" y="358.3" width="61.5" height="4.50" fill="#001496"/>
<rect x="488.1" y="362.8" width="61.5" height="3.30" fill="#8a96d8"/>
<rect x="488.1" y="366.1" width="61.5" height="2.80" fill="#001496"/>
<rect x="488.1" y="368.9" width="61.5" height="4.10" fill="#c3cbee"/>
<rect x="488.1" y="373.0" width="61.5" height="1.70" fill="#2a3caa"/>
<rect x="488.1" y="374.7" width="61.5" height="1.60" fill="#c3cbee"/>
<rect x="488.1" y="379.1" width="61.5" height="1.70" fill="#001496"/>
<rect x="488.1" y="380.8" width="61.5" height="1.60" fill="#c3cbee"/>
<rect x="488.1" y="382.4" width="61.5" height="4.10" fill="#4252b6"/>
<rect x="488.1" y="386.5" width="61.5" height="2.40" fill="#2a3caa"/>
<rect x="488.1" y="388.9" width="61.5" height="1.30" fill="#c3cbee"/>
<rect x="488.1" y="390.2" width="61.5" height="2.80" fill="#4252b6"/>
<rect x="488.1" y="393.0" width="61.5" height="4.30" fill="#8a96d8"/>
<rect x="488.1" y="397.3" width="61.5" height="2.80" fill="#c3cbee"/>
<rect x="488.1" y="400.1" width="61.5" height="1.40" fill="#8a96d8"/>
<rect x="488.1" y="408.0" width="61.5" height="3.20" fill="#8a96d8"/>
<rect x="488.1" y="411.2" width="61.5" height="1.80" fill="#2a3caa"/>
<rect x="488.1" y="413.0" width="61.5" height="2.40" fill="#8a96d8"/>
<rect x="488.1" y="415.4" width="61.5" height="2.70" fill="#001496"/>
<rect x="488.1" y="418.1" width="61.5" height="2.80" fill="#8a96d8"/>
<rect x="488.1" y="420.9" width="61.5" height="1.40" fill="#c3cbee"/>
<rect x="488.1" y="422.3" width="61.5" height="1.40" fill="#001496"/>
<rect x="488.1" y="426.0" width="61.5" height="3.20" fill="#001496"/>
<rect x="488.1" y="432.9" width="61.5" height="3.70" fill="#8a96d8"/>
<rect x="488.1" y="436.6" width="61.5" height="2.30" fill="#4252b6"/>
<rect x="488.1" y="438.9" width="61.5" height="2.80" fill="#001496"/>
<rect x="488.1" y="445.4" width="61.5" height="4.20" fill="#8a96d8"/>
<rect x="488.1" y="449.6" width="61.5" height="1.80" fill="#c3cbee"/>
<rect x="488.1" y="451.4" width="61.5" height="2.80" fill="#8a96d8"/>
<rect x="488.1" y="457.9" width="61.5" height="4.60" fill="#8a96d8"/>
<rect x="488.1" y="462.5" width="61.5" height="1.40" fill="#c3cbee"/>
<rect x="488.1" y="463.9" width="61.5" height="4.20" fill="#4252b6"/>
<rect x="488.1" y="468.1" width="61.5" height="1.40" fill="#c3cbee"/>
<rect x="488.1" y="469.5" width="61.5" height="2.30" fill="#8a96d8"/>
<rect x="488.1" y="471.8" width="61.5" height="2.80" fill="#001496"/>
<rect x="488.1" y="474.6" width="61.5" height="1.80" fill="#8a96d8"/>
<rect x="488.1" y="477.8" width="61.5" height="2.20" fill="#8a96d8"/>
<rect x="488.1" y="480.0" width="61.5" height="2.60" fill="#8a96d8"/>
<rect x="488.1" y="485.1" width="61.5" height="4.20" fill="#8a96d8"/>
<rect x="488.1" y="489.3" width="61.5" height="3.90" fill="#001496"/>
<rect x="488.1" y="502.0" width="61.5" height="4.20" fill="#c3cbee"/>
<rect x="488.1" y="508.7" width="61.5" height="2.10" fill="#001496"/>
<rect x="488.1" y="513.4" width="61.5" height="2.10" fill="#001496"/>
<rect x="488.1" y="515.5" width="61.5" height="4.70" fill="#8a96d8"/>
<rect x="488.1" y="520.2" width="61.5" height="2.00" fill="#c3cbee"/>
<rect x="488.1" y="525.6" width="61.5" height="2.50" fill="#c3cbee"/>
<rect x="488.1" y="530.6" width="61.5" height="3.40" fill="#8a96d8"/>
<rect x="488.1" y="536.6" width="61.5" height="4.20" fill="#8a96d8"/>
<rect x="488.1" y="542.5" width="61.5" height="2.50" fill="#001496"/>
<rect x="488.1" y="545.0" width="61.5" height="1.70" fill="#8a96d8"/>
<rect x="488.1" y="546.7" width="61.5" height="2.50" fill="#001496"/>
<rect x="488.1" y="551.7" width="61.5" height="10.10" fill="#8a96d8"/>
<rect x="488.1" y="566.9" width="61.5" height="2.20" fill="#001496"/>
<rect x="488.1" y="571.1" width="61.5" height="2.00" fill="#001496"/>
<rect x="488.1" y="588.0" width="61.5" height="2.50" fill="#001496"/>
<rect x="488.1" y="593.9" width="61.5" height="2.50" fill="#001496"/>
<rect x="488.1" y="596.4" width="61.5" height="1.70" fill="#c3cbee"/>
<rect x="488.1" y="598.1" width="61.5" height="2.50" fill="#8a96d8"/>
<rect x="488.1" y="604.0" width="61.5" height="4.20" fill="#001496"/>
<rect x="488.1" y="609.9" width="61.5" height="1.70" fill="#001496"/>
<rect x="488.1" y="614.1" width="61.5" height="3.40" fill="#8a96d8"/>
<rect x="488.1" y="623.5" width="61.5" height="1.50" fill="#4252b6"/>
<rect x="488.1" y="625.0" width="61.5" height="2.00" fill="#8a96d8"/>
<rect x="488.1" y="632.5" width="61.5" height="2.30" fill="#001496"/>
<rect x="488.1" y="644.5" width="61.5" height="2.50" fill="#8a96d8"/>
<rect x="488.1" y="653.0" width="61.5" height="1.30" fill="#8a96d8"/>
<rect x="488.1" y="663.5" width="61.5" height="2.70" fill="#8a96d8"/>
<rect x="488.1" y="676.3" width="61.5" height="1.30" fill="#8a96d8"/>
<rect x="488.1" y="689.5" width="61.5" height="1.50" fill="#001496"/>
<rect x="488.1" y="705.5" width="61.5" height="1.30" fill="#8a96d8"/>
<rect x="488.1" y="718.5" width="61.5" height="2.30" fill="#001496"/>
<rect x="488.1" y="723.3" width="61.5" height="2.20" fill="#8a96d8"/>
<rect x="488.1" y="725.5" width="61.5" height="2.00" fill="#4252b6"/>
<rect x="488.1" y="727.5" width="61.5" height="2.00" fill="#8a96d8"/>
<rect x="488.1" y="742.3" width="61.5" height="2.00" fill="#8a96d8"/>
<rect x="488.1" y="748.3" width="61.5" height="2.50" fill="#001496"/>
<rect x="488.1" y="761.3" width="61.5" height="1.90" fill="#001496"/>
<rect x="488.1" y="765.5" width="61.5" height="1.30" fill="#8a96d8"/>
<rect x="488.1" y="777.2" width="61.5" height="1.30" fill="#8a96d8"/>
<rect x="488.1" y="784.5" width="61.5" height="1.30" fill="#8a96d8"/>
<rect x="488.1" y="788.8" width="61.5" height="1.20" fill="#8a96d8"/>
<rect x="365.2" y="908.6" width="61.3" height="2.3" fill="#800000"/><rect x="365.2" y="910.9" width="61.3" height="0.9" fill="#e8b020"/>
<rect x="426.5" y="910.6" width="61.3" height="1.4" fill="#6a4a9a"/>
<rect x="487.8" y="910.6" width="61.3" height="1.3" fill="#78a8e6"/>
<rect x="623" y="321.8" width="17.3" height="595.9" fill="url(#cbar)"/>
<text x="643.2" y="325.8" font-size="11.8" fill="#2a3f5f" text-anchor="start" font-family='"Liberation Sans", sans-serif' font-weight="normal" font-style="normal" >1</text>
<text x="643.2" y="388" font-size="11.8" fill="#2a3f5f" text-anchor="start" font-family='"Liberation Sans", sans-serif' font-weight="normal" font-style="normal" >0.9</text>
<text x="643.2" y="450.3" font-size="11.8" fill="#2a3f5f" text-anchor="start" font-family='"Liberation Sans", sans-serif' font-weight="normal" font-style="normal" >0.8</text>
<text x="643.2" y="512.5" font-size="11.8" fill="#2a3f5f" text-anchor="start" font-family='"Liberation Sans", sans-serif' font-weight="normal" font-style="normal" >0.7</text>
<text x="643.2" y="574.8" font-size="11.8" fill="#2a3f5f" text-anchor="start" font-family='"Liberation Sans", sans-serif' font-weight="normal" font-style="normal" >0.6</text>
<text x="643.2" y="637" font-size="11.8" fill="#2a3f5f" text-anchor="start" font-family='"Liberation Sans", sans-serif' font-weight="normal" font-style="normal" >0.5</text>
<text x="643.2" y="699.2" font-size="11.8" fill="#2a3f5f" text-anchor="start" font-family='"Liberation Sans", sans-serif' font-weight="normal" font-style="normal" >0.4</text>
<text x="643.2" y="761.5" font-size="11.8" fill="#2a3f5f" text-anchor="start" font-family='"Liberation Sans", sans-serif' font-weight="normal" font-style="normal" >0.3</text>
<text x="643.2" y="823.7" font-size="11.8" fill="#2a3f5f" text-anchor="start" font-family='"Liberation Sans", sans-serif' font-weight="normal" font-style="normal" >0.2</text>
<text x="643.2" y="886" font-size="11.8" fill="#2a3f5f" text-anchor="start" font-family='"Liberation Sans", sans-serif' font-weight="normal" font-style="normal" >0.1</text>
<text x="0" y="0" transform="translate(284.8,625.9) rotate(-90)" font-family='"Liberation Sans", sans-serif' font-size="13.9" fill="#2a3f5f" text-anchor="middle">Individuals</text>
<line x1="549.5" y1="364.3" x2="610.8" y2="364.3" stroke="#6464be" stroke-width="1"/>
<circle cx="334.5" cy="349" r="2" fill="#fff" stroke="#333" stroke-width="0.6"/>
<circle cx="334.5" cy="650.7" r="2" fill="#fff" stroke="#333" stroke-width="0.6"/>
<circle cx="334.5" cy="792.2" r="2" fill="#fff" stroke="#333" stroke-width="0.6"/>
<circle cx="334.5" cy="904.1" r="2" fill="#fff" stroke="#333" stroke-width="0.6"/>
<line x1="204.4" y1="281.2" x2="326.6" y2="345.5" stroke="#111" stroke-width="1.3"/>
<path d="M331.2,347.9 L325.5,347.6 L327.7,343.4 Z" fill="#111"/>
<line x1="221.5" y1="445" x2="329.3" y2="641.4" stroke="#111" stroke-width="1.3"/>
<path d="M331.8,646 L327.2,642.6 L331.4,640.3 Z" fill="#111"/>
<line x1="188.7" y1="603.3" x2="323.9" y2="783.5" stroke="#111" stroke-width="1.3"/>
<path d="M327,787.7 L322.0,785.0 L325.8,782.1 Z" fill="#111"/>
<line x1="188.4" y1="762.5" x2="322.6" y2="896.9" stroke="#111" stroke-width="1.3"/>
<path d="M326.3,900.6 L320.9,898.6 L324.3,895.2 Z" fill="#111"/>
</svg></body></html>
